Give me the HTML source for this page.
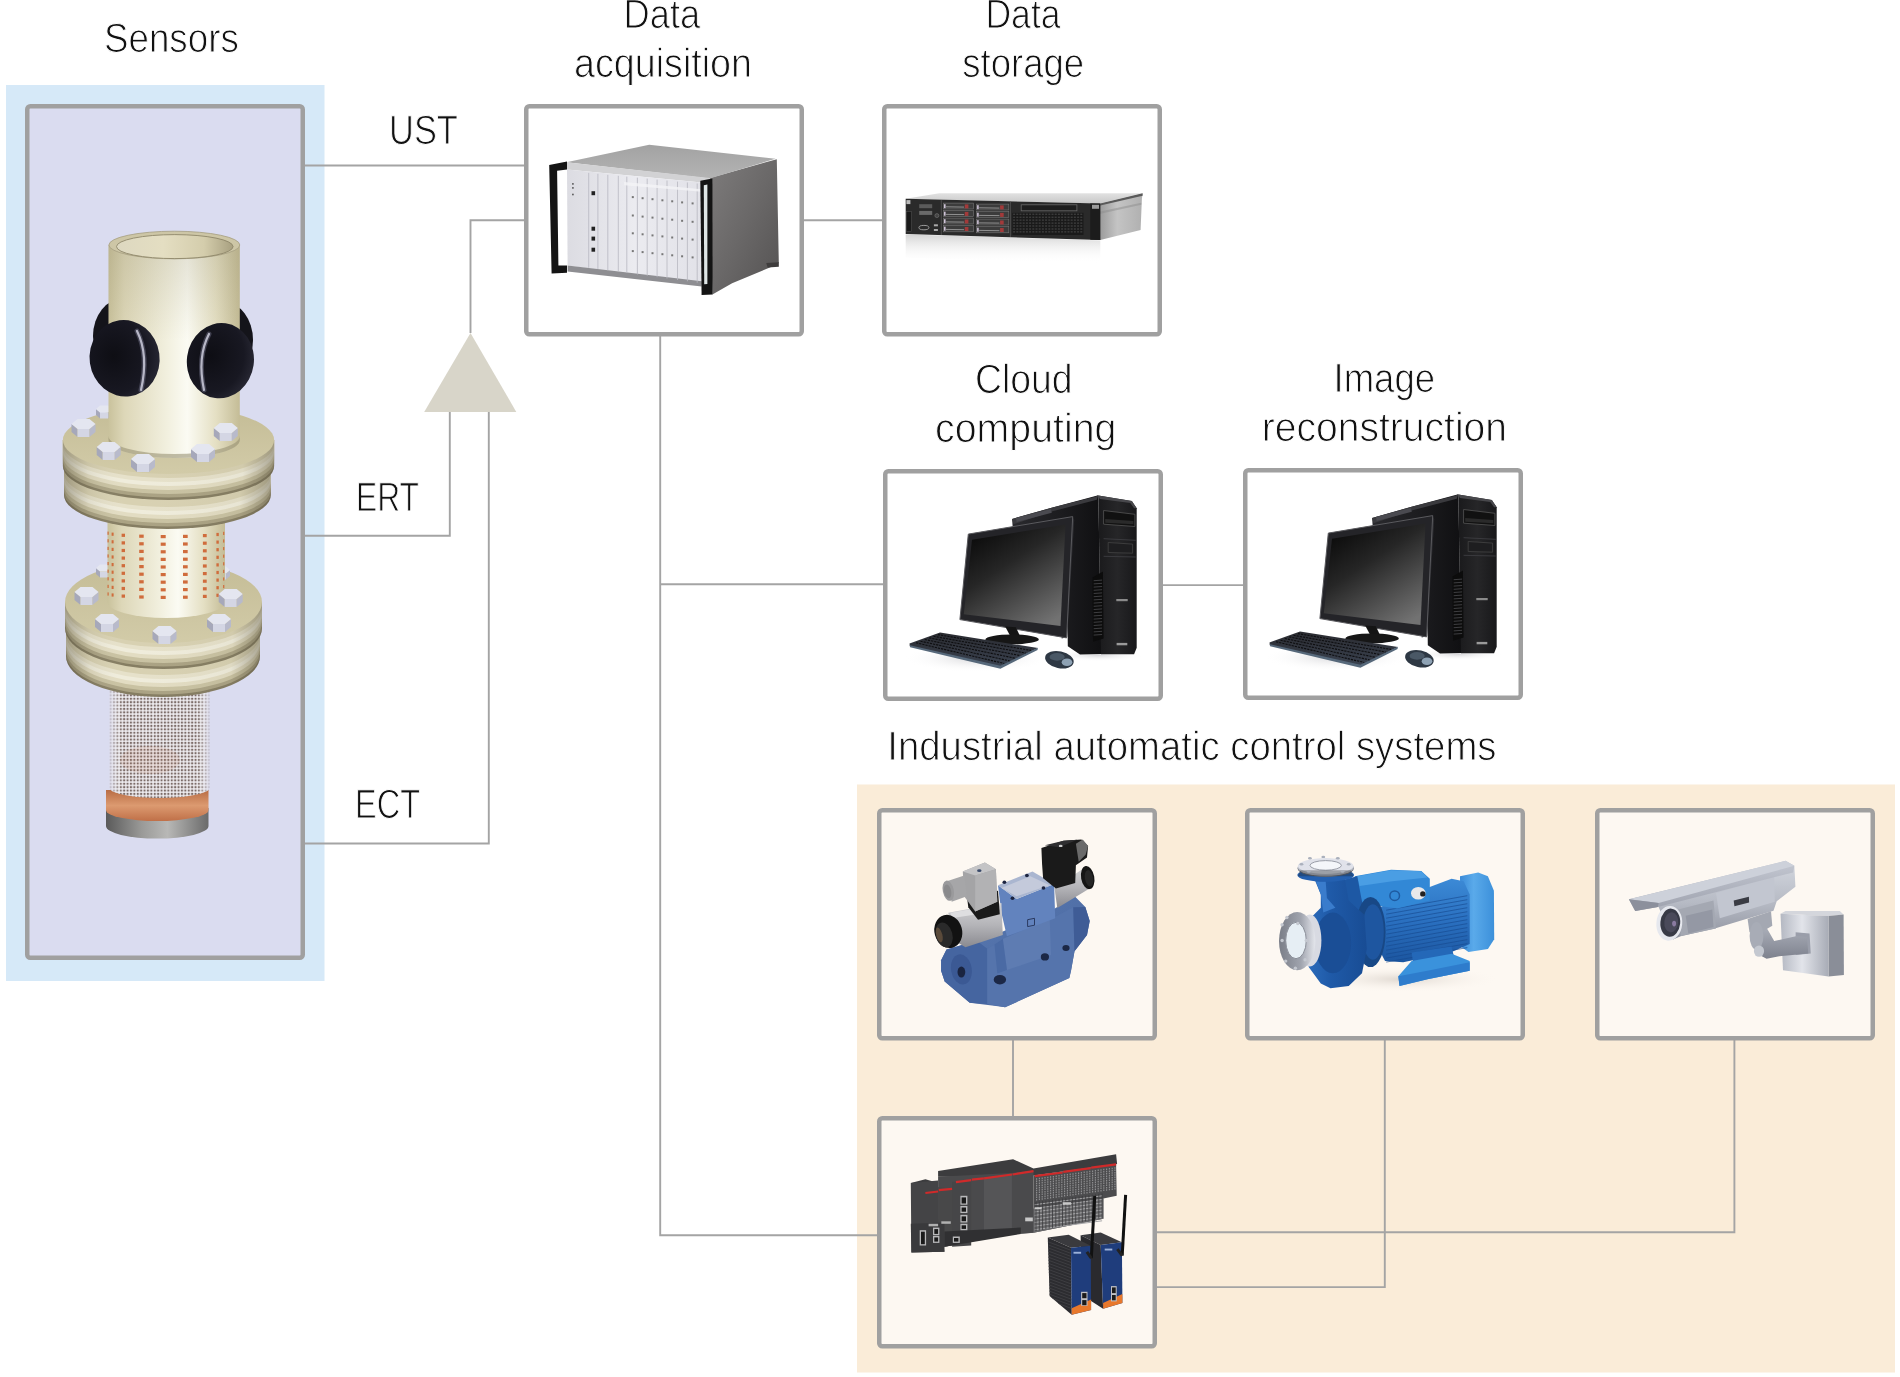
<!DOCTYPE html>
<html><head><meta charset="utf-8">
<style>
html,body{margin:0;padding:0;background:#fff;}
body{width:1900px;height:1377px;overflow:hidden;}
svg{display:block;}
.t{font-family:"Liberation Sans",sans-serif;font-size:41px;fill:#111;stroke:#fff;stroke-width:1.0px;text-rendering:geometricPrecision;-webkit-font-smoothing:antialiased;}
svg{will-change:transform;}
</style></head>
<body>
<svg width="1900" height="1377" viewBox="0 0 1900 1377">
<rect x="0" y="0" width="1900" height="1377" fill="#fff"/>
<rect x="6" y="85" width="318.5" height="896" fill="#d6e9f8"/>
<rect x="857" y="784.5" width="1038" height="588" fill="#faecd8"/>
<g fill="none" stroke="#a4a4a4" stroke-width="1.9">
<path d="M305,165.5H524"/>
<path d="M470.5,333V220.2H524"/>
<path d="M305,535.7H449.8V412"/>
<path d="M305,843.5H488.8V412"/>
<path d="M804,220.2H882"/>
<path d="M660.2,336V1235.3H877"/>
<path d="M660.2,584.3H883"/>
<path d="M1163,585.1H1243"/>
<path d="M1013,1040V1116"/>
<path d="M1384.8,1040V1287.1H1157"/>
<path d="M1734.4,1040V1232.2H1157"/>
</g>
<path d="M470.5,333L516.3,411.9L424.2,411.9Z" fill="#d8d5c9"/>
<g stroke="#a0a0a0" stroke-width="4.5"><rect x="27.25" y="106.25" width="275.5" height="851.5" rx="3" fill="#dadcf0"/><rect x="526.25" y="106.25" width="275.5" height="228.10000000000002" rx="3" fill="#fff"/><rect x="884.25" y="106.25" width="275.5" height="228.10000000000002" rx="3" fill="#fff"/><rect x="885.25" y="471.25" width="275.5" height="227.5" rx="3" fill="#fff"/><rect x="1245.25" y="470.25" width="275.5" height="227.5" rx="3" fill="#fff"/><rect x="879.25" y="810.25" width="275.5" height="228.0" rx="3" fill="#fdf8f2"/><rect x="1247.25" y="810.25" width="275.5" height="228.0" rx="3" fill="#fdf8f2"/><rect x="1597.25" y="810.25" width="275.5" height="228.0" rx="3" fill="#fdf8f2"/><rect x="879.25" y="1118.25" width="275.5" height="228.0999999999999" rx="3" fill="#fdf8f2"/></g>
<defs>
<linearGradient id="pcyl" x1="0" x2="1" y1="0" y2="0">
<stop offset="0" stop-color="#c9c29c"/><stop offset="0.12" stop-color="#ddd7b8"/><stop offset="0.45" stop-color="#f2f0df"/><stop offset="0.6" stop-color="#fbfbf3"/><stop offset="0.82" stop-color="#e4dfc3"/><stop offset="1" stop-color="#c4bc96"/>
</linearGradient>
<linearGradient id="pside" x1="0" x2="1" y1="0" y2="0">
<stop offset="0" stop-color="#b0a886"/><stop offset="0.15" stop-color="#dcd6ba"/><stop offset="0.5" stop-color="#f0eedd"/><stop offset="0.8" stop-color="#e0dbc2"/><stop offset="1" stop-color="#a29a7a"/>
</linearGradient>
<linearGradient id="psidev" x1="0" x2="0" y1="0" y2="1">
<stop offset="0" stop-color="#fff" stop-opacity="0"/><stop offset="0.45" stop-color="#fff" stop-opacity="0.35"/><stop offset="1" stop-color="#6e6650" stop-opacity="0.35"/>
</linearGradient>
<linearGradient id="pface" x1="0" x2="0" y1="0" y2="1">
<stop offset="0" stop-color="#c4bc96"/><stop offset="1" stop-color="#d2cba8"/>
</linearGradient>
<linearGradient id="phole" x1="0" x2="1" y1="0" y2="0">
<stop offset="0" stop-color="#ddd8c0"/><stop offset="0.4" stop-color="#e4dec2"/><stop offset="0.75" stop-color="#d4cdac"/><stop offset="1" stop-color="#a8a080"/>
</linearGradient>
<linearGradient id="pvert" x1="0" x2="0" y1="0" y2="1">
<stop offset="0" stop-color="#8a8260" stop-opacity="0.22"/><stop offset="0.45" stop-color="#8a8260" stop-opacity="0"/><stop offset="1" stop-color="#8a8260" stop-opacity="0"/>
</linearGradient>
<radialGradient id="sens" cx="0.35" cy="0.45" r="0.7">
<stop offset="0" stop-color="#0e0e14"/><stop offset="0.7" stop-color="#181822"/><stop offset="1" stop-color="#2a2a36"/>
</radialGradient>
<pattern id="mesh" width="3.4" height="3.4" patternUnits="userSpaceOnUse">
<rect width="3.4" height="3.4" fill="#f4f2f6"/><rect x="0.7" y="0.7" width="2.1" height="2.1" fill="#7c6c68"/>
</pattern>
<linearGradient id="meshsh" x1="0" x2="1" y1="0" y2="0">
<stop offset="0" stop-color="#d8d8ea" stop-opacity="0.8"/><stop offset="0.12" stop-color="#fff" stop-opacity="0"/><stop offset="0.88" stop-color="#fff" stop-opacity="0"/><stop offset="1" stop-color="#d8d8ea" stop-opacity="0.8"/>
</linearGradient>
<linearGradient id="copper" x1="0" x2="0" y1="0" y2="1">
<stop offset="0" stop-color="#b86c44"/><stop offset="0.5" stop-color="#dc9a70"/><stop offset="1" stop-color="#c07048"/>
</linearGradient>
<linearGradient id="capg" x1="0" x2="1" y1="0" y2="0">
<stop offset="0" stop-color="#5a5a5a"/><stop offset="0.35" stop-color="#9a9a98"/><stop offset="0.6" stop-color="#b8b8b6"/><stop offset="1" stop-color="#6a6a6a"/>
</linearGradient>
<linearGradient id="pshade" x1="0" x2="1" y1="0" y2="0">
<stop offset="0" stop-color="#5a5440" stop-opacity="0.45"/><stop offset="0.12" stop-color="#5a5440" stop-opacity="0.1"/><stop offset="0.3" stop-color="#fff" stop-opacity="0"/><stop offset="0.85" stop-color="#5a5440" stop-opacity="0.05"/><stop offset="1" stop-color="#5a5440" stop-opacity="0.45"/>
</linearGradient>
</defs>
<path d="M106,808 V826 A51.25,12.6 0 0 0 208.5,826 V808 Z" fill="url(#capg)"/>
<path d="M106,790 V810 A51.25,11 0 0 0 208.5,810 V790 Z" fill="url(#copper)"/>
<path d="M109.8,680 V788 A49.7,10 0 0 0 209.2,788 V680 Z" fill="url(#mesh)"/>
<path d="M109.8,680 V788 A49.7,10 0 0 0 209.2,788 V680 Z" fill="url(#meshsh)"/>
<ellipse cx="150" cy="760" rx="30" ry="14" fill="#d07a50" opacity="0.12"/>
<path d="M66,630 V656 A97,41 0 0 0 260,656 V630 Z" fill="#857d62"/><path d="M66,630 V653.5 A97,41 0 0 0 260,653.5 V630 Z" fill="#aaa283"/><path d="M66,630 V650 A97,41 0 0 0 260,650 V630 Z" fill="#c9c2a2"/><path d="M66,630 V646 A97,41 0 0 0 260,646 V630 Z" fill="#e2dcc2"/><path d="M66,630 V642 A97,41 0 0 0 260,642 V630 Z" fill="#efecdb"/><path d="M66,630 V638 A97,41 0 0 0 260,638 V630 Z" fill="#e6e1ca"/><path d="M66,630 V634 A97,41 0 0 0 260,634 V630 Z" fill="#d8d1b2"/><path d="M66,630 V656 A97,41 0 0 0 260,656 V630 Z" fill="url(#pshade)"/>
<path d="M65.0,602 V628 A98.5,41 0 0 0 262.0,628 V602 Z" fill="#857d62"/><path d="M65.0,602 V625.5 A98.5,41 0 0 0 262.0,625.5 V602 Z" fill="#aaa283"/><path d="M65.0,602 V622 A98.5,41 0 0 0 262.0,622 V602 Z" fill="#c9c2a2"/><path d="M65.0,602 V618 A98.5,41 0 0 0 262.0,618 V602 Z" fill="#e2dcc2"/><path d="M65.0,602 V614 A98.5,41 0 0 0 262.0,614 V602 Z" fill="#efecdb"/><path d="M65.0,602 V610 A98.5,41 0 0 0 262.0,610 V602 Z" fill="#e6e1ca"/><path d="M65.0,602 V606 A98.5,41 0 0 0 262.0,606 V602 Z" fill="#d8d1b2"/><path d="M65.0,602 V628 A98.5,41 0 0 0 262.0,628 V602 Z" fill="url(#pshade)"/>
<ellipse cx="163.5" cy="602" rx="98.5" ry="41" fill="url(#pface)"/>
<polygon points="96.0,568.0 100.0,571.5 100.0,577.5 96.0,574.0" fill="#a6a8ba"/><polygon points="100.0,571.5 108.0,571.5 108.0,577.5 100.0,577.5" fill="#d4d6e4"/><polygon points="108.0,571.5 112.0,568.0 112.0,574.0 108.0,577.5" fill="#b8bacb"/><polygon points="96.0,568.0 100.0,564.5 108.0,564.5 112.0,568.0 108.0,571.5 100.0,571.5" fill="#e4e6f0"/>
<polygon points="214.0,570.0 218.0,573.5 218.0,579.5 214.0,576.0" fill="#a6a8ba"/><polygon points="218.0,573.5 226.0,573.5 226.0,579.5 218.0,579.5" fill="#d4d6e4"/><polygon points="226.0,573.5 230.0,570.0 230.0,576.0 226.0,579.5" fill="#b8bacb"/><polygon points="214.0,570.0 218.0,566.5 226.0,566.5 230.0,570.0 226.0,573.5 218.0,573.5" fill="#e4e6f0"/>
<path d="M107.5,520 V602 A58.75,16 0 0 0 225,602 V520 Z" fill="url(#pcyl)"/>
<g fill="#d06c3c">
<rect x="107.5" y="531.6" width="1.2" height="3.2"/>
<rect x="107.5" y="539.2" width="1.2" height="3.2"/>
<rect x="107.5" y="546.8" width="1.2" height="3.2"/>
<rect x="107.5" y="554.4" width="1.2" height="3.2"/>
<rect x="107.5" y="562.0" width="1.2" height="3.2"/>
<rect x="107.5" y="569.6" width="1.2" height="3.2"/>
<rect x="107.5" y="577.2" width="1.2" height="3.2"/>
<rect x="107.5" y="584.8" width="1.2" height="3.2"/>
<rect x="107.5" y="592.4" width="1.2" height="3.2"/>
<rect x="111.6" y="532.6" width="2.0" height="3.2"/>
<rect x="111.6" y="540.2" width="2.0" height="3.2"/>
<rect x="111.6" y="547.8" width="2.0" height="3.2"/>
<rect x="111.6" y="555.4" width="2.0" height="3.2"/>
<rect x="111.6" y="563.0" width="2.0" height="3.2"/>
<rect x="111.6" y="570.6" width="2.0" height="3.2"/>
<rect x="111.6" y="578.2" width="2.0" height="3.2"/>
<rect x="111.6" y="585.8" width="2.0" height="3.2"/>
<rect x="111.6" y="593.4" width="2.0" height="3.2"/>
<rect x="121.6" y="533.7" width="3.4" height="3.2"/>
<rect x="121.6" y="541.3" width="3.4" height="3.2"/>
<rect x="121.6" y="548.9" width="3.4" height="3.2"/>
<rect x="121.6" y="556.5" width="3.4" height="3.2"/>
<rect x="121.6" y="564.1" width="3.4" height="3.2"/>
<rect x="121.6" y="571.7" width="3.4" height="3.2"/>
<rect x="121.6" y="579.3" width="3.4" height="3.2"/>
<rect x="121.6" y="586.9" width="3.4" height="3.2"/>
<rect x="121.6" y="594.5" width="3.4" height="3.2"/>
<rect x="139.2" y="534.6" width="4.5" height="3.2"/>
<rect x="139.2" y="542.2" width="4.5" height="3.2"/>
<rect x="139.2" y="549.8" width="4.5" height="3.2"/>
<rect x="139.2" y="557.4" width="4.5" height="3.2"/>
<rect x="139.2" y="565.0" width="4.5" height="3.2"/>
<rect x="139.2" y="572.6" width="4.5" height="3.2"/>
<rect x="139.2" y="580.2" width="4.5" height="3.2"/>
<rect x="139.2" y="587.8" width="4.5" height="3.2"/>
<rect x="139.2" y="595.4" width="4.5" height="3.2"/>
<rect x="160.7" y="535.0" width="5.0" height="3.2"/>
<rect x="160.7" y="542.6" width="5.0" height="3.2"/>
<rect x="160.7" y="550.2" width="5.0" height="3.2"/>
<rect x="160.7" y="557.8" width="5.0" height="3.2"/>
<rect x="160.7" y="565.4" width="5.0" height="3.2"/>
<rect x="160.7" y="573.0" width="5.0" height="3.2"/>
<rect x="160.7" y="580.6" width="5.0" height="3.2"/>
<rect x="160.7" y="588.2" width="5.0" height="3.2"/>
<rect x="160.7" y="595.8" width="5.0" height="3.2"/>
<rect x="183.0" y="534.8" width="4.7" height="3.2"/>
<rect x="183.0" y="542.4" width="4.7" height="3.2"/>
<rect x="183.0" y="550.0" width="4.7" height="3.2"/>
<rect x="183.0" y="557.6" width="4.7" height="3.2"/>
<rect x="183.0" y="565.2" width="4.7" height="3.2"/>
<rect x="183.0" y="572.8" width="4.7" height="3.2"/>
<rect x="183.0" y="580.4" width="4.7" height="3.2"/>
<rect x="183.0" y="588.0" width="4.7" height="3.2"/>
<rect x="183.0" y="595.6" width="4.7" height="3.2"/>
<rect x="202.9" y="534.0" width="3.8" height="3.2"/>
<rect x="202.9" y="541.6" width="3.8" height="3.2"/>
<rect x="202.9" y="549.2" width="3.8" height="3.2"/>
<rect x="202.9" y="556.8" width="3.8" height="3.2"/>
<rect x="202.9" y="564.4" width="3.8" height="3.2"/>
<rect x="202.9" y="572.0" width="3.8" height="3.2"/>
<rect x="202.9" y="579.6" width="3.8" height="3.2"/>
<rect x="202.9" y="587.2" width="3.8" height="3.2"/>
<rect x="202.9" y="594.8" width="3.8" height="3.2"/>
<rect x="216.4" y="532.9" width="2.4" height="3.2"/>
<rect x="216.4" y="540.5" width="2.4" height="3.2"/>
<rect x="216.4" y="548.1" width="2.4" height="3.2"/>
<rect x="216.4" y="555.7" width="2.4" height="3.2"/>
<rect x="216.4" y="563.3" width="2.4" height="3.2"/>
<rect x="216.4" y="570.9" width="2.4" height="3.2"/>
<rect x="216.4" y="578.5" width="2.4" height="3.2"/>
<rect x="216.4" y="586.1" width="2.4" height="3.2"/>
<rect x="216.4" y="593.7" width="2.4" height="3.2"/>
<rect x="223.1" y="531.8" width="1.2" height="3.2"/>
<rect x="223.1" y="539.4" width="1.2" height="3.2"/>
<rect x="223.1" y="547.0" width="1.2" height="3.2"/>
<rect x="223.1" y="554.6" width="1.2" height="3.2"/>
<rect x="223.1" y="562.2" width="1.2" height="3.2"/>
<rect x="223.1" y="569.8" width="1.2" height="3.2"/>
<rect x="223.1" y="577.4" width="1.2" height="3.2"/>
<rect x="223.1" y="585.0" width="1.2" height="3.2"/>
<rect x="223.1" y="592.6" width="1.2" height="3.2"/>
</g>
<polygon points="74.5,592.0 80.5,597.0 80.5,605.0 74.5,600.0" fill="#a6a8ba"/><polygon points="80.5,597.0 92.5,597.0 92.5,605.0 80.5,605.0" fill="#d4d6e4"/><polygon points="92.5,597.0 98.5,592.0 98.5,600.0 92.5,605.0" fill="#b8bacb"/><polygon points="74.5,592.0 80.5,587.0 92.5,587.0 98.5,592.0 92.5,597.0 80.5,597.0" fill="#e4e6f0"/>
<polygon points="95.0,619.0 101.0,624.0 101.0,632.0 95.0,627.0" fill="#a6a8ba"/><polygon points="101.0,624.0 113.0,624.0 113.0,632.0 101.0,632.0" fill="#d4d6e4"/><polygon points="113.0,624.0 119.0,619.0 119.0,627.0 113.0,632.0" fill="#b8bacb"/><polygon points="95.0,619.0 101.0,614.0 113.0,614.0 119.0,619.0 113.0,624.0 101.0,624.0" fill="#e4e6f0"/>
<polygon points="152.5,631.0 158.5,636.0 158.5,644.0 152.5,639.0" fill="#a6a8ba"/><polygon points="158.5,636.0 170.5,636.0 170.5,644.0 158.5,644.0" fill="#d4d6e4"/><polygon points="170.5,636.0 176.5,631.0 176.5,639.0 170.5,644.0" fill="#b8bacb"/><polygon points="152.5,631.0 158.5,626.0 170.5,626.0 176.5,631.0 170.5,636.0 158.5,636.0" fill="#e4e6f0"/>
<polygon points="207.0,619.0 213.0,624.0 213.0,632.0 207.0,627.0" fill="#a6a8ba"/><polygon points="213.0,624.0 225.0,624.0 225.0,632.0 213.0,632.0" fill="#d4d6e4"/><polygon points="225.0,624.0 231.0,619.0 231.0,627.0 225.0,632.0" fill="#b8bacb"/><polygon points="207.0,619.0 213.0,614.0 225.0,614.0 231.0,619.0 225.0,624.0 213.0,624.0" fill="#e4e6f0"/>
<polygon points="218.7,594.0 224.7,599.0 224.7,607.0 218.7,602.0" fill="#a6a8ba"/><polygon points="224.7,599.0 236.7,599.0 236.7,607.0 224.7,607.0" fill="#d4d6e4"/><polygon points="236.7,599.0 242.7,594.0 242.7,602.0 236.7,607.0" fill="#b8bacb"/><polygon points="218.7,594.0 224.7,589.0 236.7,589.0 242.7,594.0 236.7,599.0 224.7,599.0" fill="#e4e6f0"/>
<path d="M64.0,470 V495 A103.4,34 0 0 0 270.8,495 V470 Z" fill="#857d62"/><path d="M64.0,470 V492.5 A103.4,34 0 0 0 270.8,492.5 V470 Z" fill="#aaa283"/><path d="M64.0,470 V489 A103.4,34 0 0 0 270.8,489 V470 Z" fill="#c9c2a2"/><path d="M64.0,470 V485 A103.4,34 0 0 0 270.8,485 V470 Z" fill="#e2dcc2"/><path d="M64.0,470 V481 A103.4,34 0 0 0 270.8,481 V470 Z" fill="#efecdb"/><path d="M64.0,470 V477 A103.4,34 0 0 0 270.8,477 V470 Z" fill="#e6e1ca"/><path d="M64.0,470 V473 A103.4,34 0 0 0 270.8,473 V470 Z" fill="#d8d1b2"/><path d="M64.0,470 V495 A103.4,34 0 0 0 270.8,495 V470 Z" fill="url(#pshade)"/>
<path d="M62.900000000000006,440 V466 A105.6,34 0 0 0 274.1,466 V440 Z" fill="#857d62"/><path d="M62.900000000000006,440 V463.5 A105.6,34 0 0 0 274.1,463.5 V440 Z" fill="#aaa283"/><path d="M62.900000000000006,440 V460 A105.6,34 0 0 0 274.1,460 V440 Z" fill="#c9c2a2"/><path d="M62.900000000000006,440 V456 A105.6,34 0 0 0 274.1,456 V440 Z" fill="#e2dcc2"/><path d="M62.900000000000006,440 V452 A105.6,34 0 0 0 274.1,452 V440 Z" fill="#efecdb"/><path d="M62.900000000000006,440 V448 A105.6,34 0 0 0 274.1,448 V440 Z" fill="#e6e1ca"/><path d="M62.900000000000006,440 V444 A105.6,34 0 0 0 274.1,444 V440 Z" fill="#d8d1b2"/><path d="M62.900000000000006,440 V466 A105.6,34 0 0 0 274.1,466 V440 Z" fill="url(#pshade)"/>
<ellipse cx="168.5" cy="440" rx="105.6" ry="34" fill="url(#pface)"/>
<polygon points="96.0,409.0 100.0,412.5 100.0,418.5 96.0,415.0" fill="#a6a8ba"/><polygon points="100.0,412.5 108.0,412.5 108.0,418.5 100.0,418.5" fill="#d4d6e4"/><polygon points="108.0,412.5 112.0,409.0 112.0,415.0 108.0,418.5" fill="#b8bacb"/><polygon points="96.0,409.0 100.0,405.5 108.0,405.5 112.0,409.0 108.0,412.5 100.0,412.5" fill="#e4e6f0"/>
<polygon points="223.0,412.0 227.0,415.5 227.0,421.5 223.0,418.0" fill="#a6a8ba"/><polygon points="227.0,415.5 235.0,415.5 235.0,421.5 227.0,421.5" fill="#d4d6e4"/><polygon points="235.0,415.5 239.0,412.0 239.0,418.0 235.0,421.5" fill="#b8bacb"/><polygon points="223.0,412.0 227.0,408.5 235.0,408.5 239.0,412.0 235.0,415.5 227.0,415.5" fill="#e4e6f0"/>
<ellipse cx="124" cy="336" rx="31" ry="38" fill="#14141a"/>
<ellipse cx="224" cy="340" rx="29" ry="38" fill="#14141a"/>
<path d="M108.5,245 V440 A65.65,18 0 0 0 239.8,440 V245 Z" fill="url(#pcyl)"/>
<path d="M108.5,436 A65.65,18 0 0 0 239.8,436 V440 A65.65,18 0 0 1 108.5,440 Z" fill="#9a9274" opacity="0.6"/>
<path d="M108.5,245 V440 A65.65,18 0 0 0 239.8,440 V245 Z" fill="url(#pvert)"/>
<ellipse cx="174.35" cy="245" rx="65.45" ry="13.8" fill="#cdc6a6" stroke="#a69e80" stroke-width="0.8"/>
<ellipse cx="174.8" cy="246.6" rx="58.3" ry="12" fill="url(#phole)" stroke="#8e876a" stroke-width="0.9"/>
<polygon points="71.5,424.0 77.5,429.0 77.5,437.0 71.5,432.0" fill="#a6a8ba"/><polygon points="77.5,429.0 89.5,429.0 89.5,437.0 77.5,437.0" fill="#d4d6e4"/><polygon points="89.5,429.0 95.5,424.0 95.5,432.0 89.5,437.0" fill="#b8bacb"/><polygon points="71.5,424.0 77.5,419.0 89.5,419.0 95.5,424.0 89.5,429.0 77.5,429.0" fill="#e4e6f0"/>
<polygon points="96.7,447.0 102.7,452.0 102.7,460.0 96.7,455.0" fill="#a6a8ba"/><polygon points="102.7,452.0 114.7,452.0 114.7,460.0 102.7,460.0" fill="#d4d6e4"/><polygon points="114.7,452.0 120.7,447.0 120.7,455.0 114.7,460.0" fill="#b8bacb"/><polygon points="96.7,447.0 102.7,442.0 114.7,442.0 120.7,447.0 114.7,452.0 102.7,452.0" fill="#e4e6f0"/>
<polygon points="131.0,459.0 137.0,464.0 137.0,472.0 131.0,467.0" fill="#a6a8ba"/><polygon points="137.0,464.0 149.0,464.0 149.0,472.0 137.0,472.0" fill="#d4d6e4"/><polygon points="149.0,464.0 155.0,459.0 155.0,467.0 149.0,472.0" fill="#b8bacb"/><polygon points="131.0,459.0 137.0,454.0 149.0,454.0 155.0,459.0 149.0,464.0 137.0,464.0" fill="#e4e6f0"/>
<polygon points="191.0,449.0 197.0,454.0 197.0,462.0 191.0,457.0" fill="#a6a8ba"/><polygon points="197.0,454.0 209.0,454.0 209.0,462.0 197.0,462.0" fill="#d4d6e4"/><polygon points="209.0,454.0 215.0,449.0 215.0,457.0 209.0,462.0" fill="#b8bacb"/><polygon points="191.0,449.0 197.0,444.0 209.0,444.0 215.0,449.0 209.0,454.0 197.0,454.0" fill="#e4e6f0"/>
<polygon points="213.8,428.0 219.8,433.0 219.8,441.0 213.8,436.0" fill="#a6a8ba"/><polygon points="219.8,433.0 231.8,433.0 231.8,441.0 219.8,441.0" fill="#d4d6e4"/><polygon points="231.8,433.0 237.8,428.0 237.8,436.0 231.8,441.0" fill="#b8bacb"/><polygon points="213.8,428.0 219.8,423.0 231.8,423.0 237.8,428.0 231.8,433.0 219.8,433.0" fill="#e4e6f0"/>
<ellipse cx="124.6" cy="358.3" rx="35" ry="38.3" transform="rotate(-8 124.6 358.3)" fill="url(#sens)"/>
<ellipse cx="220.4" cy="360.7" rx="33.5" ry="37.7" transform="rotate(8 220.4 360.7)" fill="url(#sens)"/>
<path d="M137,331 Q149,355 141,390" fill="none" stroke="#6a6a80" stroke-width="5" stroke-linecap="round" opacity="0.5"/>
<path d="M137,331 Q149,355 141,390" fill="none" stroke="#c4c4d4" stroke-width="2.2" stroke-linecap="round" opacity="0.9"/>
<path d="M209,334 Q197,357 204,390" fill="none" stroke="#6a6a80" stroke-width="5" stroke-linecap="round" opacity="0.5"/>
<path d="M209,334 Q197,357 204,390" fill="none" stroke="#c4c4d4" stroke-width="2.2" stroke-linecap="round" opacity="0.9"/>
<defs>
<linearGradient id="dqside" x1="0" x2="1" y1="0" y2="1">
<stop offset="0" stop-color="#7e7c7c"/><stop offset="0.5" stop-color="#6a6868"/><stop offset="1" stop-color="#545252"/>
</linearGradient>
<linearGradient id="dqtop" x1="0" x2="0" y1="1" y2="0">
<stop offset="0" stop-color="#b4b4b4"/><stop offset="1" stop-color="#a2a2a2"/>
</linearGradient>
<linearGradient id="dqfront" x1="0" x2="1" y1="0" y2="0">
<stop offset="0" stop-color="#dcdce2"/><stop offset="0.5" stop-color="#ebebf0"/><stop offset="1" stop-color="#e2e2e8"/>
</linearGradient>
</defs>
<polygon points="709.7,178.0 776.8,159.2 778.8,262.9 771.6,266.8 732.1,283.3 712.4,294.5" fill="url(#dqside)"/>
<polygon points="566.3,162.2 649.2,144.7 775.5,158.7 709.7,178.4" fill="url(#dqtop)"/>
<polygon points="566.3,162.2 709.7,178.0 709.7,183.3 567.0,169.5" fill="#d2d2d4"/>
<polygon points="567.0,169.5 701.8,182.6 701.8,283.9 567.6,265.5" fill="url(#dqfront)"/>
<polygon points="567.6,265.5 701.8,281.3 701.8,286.6 567.6,271.4" fill="#8e8e92"/>
<line x1="588.7" y1="172.9" x2="588.7" y2="267.8" stroke="#b8b8c0" stroke-width="0.8"/>
<line x1="597.9" y1="173.8" x2="597.9" y2="269.1" stroke="#b8b8c0" stroke-width="0.8"/>
<line x1="607.8" y1="174.8" x2="607.8" y2="270.4" stroke="#b8b8c0" stroke-width="0.8"/>
<line x1="618.3" y1="175.8" x2="618.3" y2="271.9" stroke="#b8b8c0" stroke-width="0.8"/>
<line x1="626.8" y1="176.6" x2="626.8" y2="273.0" stroke="#b8b8c0" stroke-width="0.8"/>
<line x1="637.4" y1="177.7" x2="637.4" y2="274.5" stroke="#b8b8c0" stroke-width="0.8"/>
<line x1="647.2" y1="178.6" x2="647.2" y2="275.8" stroke="#b8b8c0" stroke-width="0.8"/>
<line x1="657.1" y1="179.6" x2="657.1" y2="277.2" stroke="#b8b8c0" stroke-width="0.8"/>
<line x1="667.0" y1="180.5" x2="667.0" y2="278.5" stroke="#b8b8c0" stroke-width="0.8"/>
<line x1="677.5" y1="181.6" x2="677.5" y2="280.0" stroke="#b8b8c0" stroke-width="0.8"/>
<line x1="687.4" y1="182.5" x2="687.4" y2="281.3" stroke="#b8b8c0" stroke-width="0.8"/>
<line x1="697.2" y1="183.5" x2="697.2" y2="282.7" stroke="#b8b8c0" stroke-width="0.8"/>
<rect x="591.5" y="191.2" width="3.6" height="4" fill="#222"/>
<rect x="591.5" y="226.7" width="3.6" height="4" fill="#222"/>
<rect x="591.5" y="236.6" width="3.6" height="4" fill="#222"/>
<rect x="591.5" y="247.7" width="3.6" height="4" fill="#222"/>
<rect x="572.1" y="183.1" width="1.6" height="1.6" fill="#555"/>
<rect x="572.1" y="187.1" width="1.6" height="1.6" fill="#555"/>
<rect x="572.1" y="193.7" width="1.6" height="1.6" fill="#555"/>
<rect x="631.8" y="196.1" width="2" height="2" fill="#777"/>
<rect x="631.8" y="214.5" width="2" height="2" fill="#777"/>
<rect x="631.8" y="232.3" width="2" height="2" fill="#777"/>
<rect x="631.8" y="250.1" width="2" height="2" fill="#777"/>
<rect x="641.6" y="197.2" width="2" height="2" fill="#777"/>
<rect x="641.6" y="215.6" width="2" height="2" fill="#777"/>
<rect x="641.6" y="233.3" width="2" height="2" fill="#777"/>
<rect x="641.6" y="251.1" width="2" height="2" fill="#777"/>
<rect x="651.5" y="198.2" width="2" height="2" fill="#777"/>
<rect x="651.5" y="216.6" width="2" height="2" fill="#777"/>
<rect x="651.5" y="234.4" width="2" height="2" fill="#777"/>
<rect x="651.5" y="252.2" width="2" height="2" fill="#777"/>
<rect x="661.4" y="199.3" width="2" height="2" fill="#777"/>
<rect x="661.4" y="217.7" width="2" height="2" fill="#777"/>
<rect x="661.4" y="235.4" width="2" height="2" fill="#777"/>
<rect x="661.4" y="253.2" width="2" height="2" fill="#777"/>
<rect x="671.2" y="200.3" width="2" height="2" fill="#777"/>
<rect x="671.2" y="218.7" width="2" height="2" fill="#777"/>
<rect x="671.2" y="236.5" width="2" height="2" fill="#777"/>
<rect x="671.2" y="254.3" width="2" height="2" fill="#777"/>
<rect x="681.1" y="201.4" width="2" height="2" fill="#777"/>
<rect x="681.1" y="219.8" width="2" height="2" fill="#777"/>
<rect x="681.1" y="237.6" width="2" height="2" fill="#777"/>
<rect x="681.1" y="255.3" width="2" height="2" fill="#777"/>
<rect x="691.6" y="202.4" width="2" height="2" fill="#777"/>
<rect x="691.6" y="220.8" width="2" height="2" fill="#777"/>
<rect x="691.6" y="238.6" width="2" height="2" fill="#777"/>
<rect x="691.6" y="256.4" width="2" height="2" fill="#777"/>
<polygon points="624.2,182.0 701.8,189.2 701.8,191.8 624.2,185.3" fill="#f4f4f6" opacity="0.8"/>
<polygon points="549.2,164.9 567.0,161.6 567.0,169.5 557.1,170.8 558.4,265.5 567.0,265.5 567.0,272.8 551.6,273.4" fill="#141414"/>
<polygon points="700.3,180.7 712.4,178.4 712.6,294.5 701.6,295.1" fill="#141414"/>
<polygon points="703.8,185.3 707.4,184.6 707.4,283.9 704.2,284.2" fill="#dfe6e6"/>
<polygon points="766.3,262.9 778.8,262.2 778.8,266.8 767.6,267.5" fill="#3e3c3c"/>
<defs>
<linearGradient id="svside" x1="0" x2="1" y1="0" y2="0">
<stop offset="0" stop-color="#9c9c9c"/><stop offset="0.4" stop-color="#c4c4c4"/><stop offset="1" stop-color="#b0b0b0"/>
</linearGradient>
<linearGradient id="svtop" x1="0" x2="0" y1="1" y2="0">
<stop offset="0" stop-color="#c8c8c8"/><stop offset="1" stop-color="#e2e2e2"/>
</linearGradient>
<linearGradient id="svrefl" x1="0" x2="0" y1="0" y2="1">
<stop offset="0" stop-color="#c8c8c8" stop-opacity="0.8"/><stop offset="1" stop-color="#fff" stop-opacity="0"/>
</linearGradient>
</defs>
<polygon points="905.7,234.4 1100.3,240.4 1100.3,263.2 905.7,257.8" fill="url(#svrefl)"/>
<polygon points="1100.3,203.5 1142.6,193.4 1141.9,198.8 1140.6,229.9 1100.3,240.0" fill="url(#svside)"/>
<polygon points="1100.3,211.5 1141.3,202.8 1141.3,204.8 1100.3,213.8" fill="#8e8e8e" opacity="0.5"/>
<polygon points="905.7,198.8 939.3,193.2 1142.6,193.2 1100.3,203.5" fill="url(#svtop)"/>
<polygon points="1100.3,203.5 1142.6,193.2 1142.6,195.8 1100.3,205.5" fill="#5a5a5a"/>
<polygon points="905.7,198.8 1100.3,203.5 1100.3,240.0 905.7,234.0" fill="#2a2a2a"/>
<polygon points="1090.3,203.5 1100.3,203.5 1100.3,240.0 1090.3,239.7" fill="#1c1c1c"/>
<rect x="1092.0" y="204.8" width="7" height="4" fill="#9a9a9a"/>
<rect x="906.4" y="200.1" width="4" height="4" fill="#bbb"/>
<rect x="906.4" y="211.5" width="5" height="20" fill="#1a1a1a" stroke="#555" stroke-width="0.5"/>
<rect x="919.2" y="204.2" width="13" height="4" fill="#5a5a5a"/>
<rect x="919.2" y="210.9" width="13" height="4" fill="#6a6a6a"/>
<ellipse cx="923.9" cy="227.6" rx="5" ry="2.2" fill="none" stroke="#999" stroke-width="1"/>
<rect x="933.9" y="224.3" width="4" height="2" fill="#aaa"/><rect x="933.9" y="229.0" width="4" height="2" fill="#aaa"/>
<circle cx="936.9" cy="215.6" r="2" fill="#444" stroke="#777" stroke-width="0.6"/>
<line x1="941.3" y1="200.1" x2="941.3" y2="235.0" stroke="#555" stroke-width="0.8"/>
<line x1="1010.4" y1="201.5" x2="1010.4" y2="237.0" stroke="#555" stroke-width="0.8"/>
<rect x="943.3" y="203.1" width="30.2" height="5.9" fill="#3c3c3c" stroke="#777" stroke-width="0.6"/>
<line x1="946.0" y1="206.8" x2="964.1" y2="207.1" stroke="#9a9a9a" stroke-width="0.9"/>
<rect x="964.8" y="204.4" width="3.6" height="4" fill="#a33a3a"/>
<rect x="944.0" y="204.2" width="1.6" height="4" fill="#cfc4d8"/>
<rect x="943.3" y="210.6" width="30.2" height="5.9" fill="#3c3c3c" stroke="#777" stroke-width="0.6"/>
<line x1="946.0" y1="214.4" x2="964.1" y2="214.6" stroke="#9a9a9a" stroke-width="0.9"/>
<rect x="964.8" y="211.9" width="3.6" height="4" fill="#a33a3a"/>
<rect x="944.0" y="211.7" width="1.6" height="4" fill="#cfc4d8"/>
<rect x="943.3" y="218.1" width="30.2" height="5.9" fill="#3c3c3c" stroke="#777" stroke-width="0.6"/>
<line x1="946.0" y1="221.9" x2="964.1" y2="222.1" stroke="#9a9a9a" stroke-width="0.9"/>
<rect x="964.8" y="219.5" width="3.6" height="4" fill="#a33a3a"/>
<rect x="944.0" y="219.2" width="1.6" height="4" fill="#cfc4d8"/>
<rect x="943.3" y="225.6" width="30.2" height="6.2" fill="#3c3c3c" stroke="#777" stroke-width="0.6"/>
<line x1="946.0" y1="229.4" x2="964.1" y2="229.7" stroke="#9a9a9a" stroke-width="0.9"/>
<rect x="964.8" y="227.0" width="3.6" height="4" fill="#a33a3a"/>
<rect x="944.0" y="226.7" width="1.6" height="4" fill="#cfc4d8"/>
<rect x="976.5" y="204.1" width="32.3" height="5.9" fill="#3c3c3c" stroke="#777" stroke-width="0.6"/>
<line x1="979.1" y1="207.8" x2="999.4" y2="208.1" stroke="#9a9a9a" stroke-width="0.9"/>
<rect x="1000.1" y="205.4" width="3.6" height="4" fill="#a33a3a"/>
<rect x="977.1" y="205.2" width="1.6" height="4" fill="#cfc4d8"/>
<rect x="976.5" y="211.6" width="32.3" height="5.9" fill="#3c3c3c" stroke="#777" stroke-width="0.6"/>
<line x1="979.1" y1="215.4" x2="999.4" y2="215.6" stroke="#9a9a9a" stroke-width="0.9"/>
<rect x="1000.1" y="212.9" width="3.6" height="4" fill="#a33a3a"/>
<rect x="977.1" y="212.7" width="1.6" height="4" fill="#cfc4d8"/>
<rect x="976.5" y="219.1" width="32.3" height="5.9" fill="#3c3c3c" stroke="#777" stroke-width="0.6"/>
<line x1="979.1" y1="222.9" x2="999.4" y2="223.1" stroke="#9a9a9a" stroke-width="0.9"/>
<rect x="1000.1" y="220.5" width="3.6" height="4" fill="#a33a3a"/>
<rect x="977.1" y="220.2" width="1.6" height="4" fill="#cfc4d8"/>
<rect x="976.5" y="226.6" width="32.3" height="6.2" fill="#3c3c3c" stroke="#777" stroke-width="0.6"/>
<line x1="979.1" y1="230.4" x2="999.4" y2="230.7" stroke="#9a9a9a" stroke-width="0.9"/>
<rect x="1000.1" y="228.0" width="3.6" height="4" fill="#a33a3a"/>
<rect x="977.1" y="227.7" width="1.6" height="4" fill="#cfc4d8"/>
<rect x="1021.2" y="204.8" width="55.7" height="6.0" fill="#1e1e1e" stroke="#6a6a6a" stroke-width="0.8"/>
<rect x="1012.4" y="212.9" width="71.1" height="22.1" fill="#1a1a1a"/>
<line x1="1013.1" y1="214.2" x2="1082.9" y2="214.2" stroke="#4a4a4a" stroke-width="1" stroke-dasharray="2 1.2"/>
<line x1="1013.1" y1="217.2" x2="1082.9" y2="217.2" stroke="#4a4a4a" stroke-width="1" stroke-dasharray="2 1.2"/>
<line x1="1013.1" y1="220.1" x2="1082.9" y2="220.1" stroke="#4a4a4a" stroke-width="1" stroke-dasharray="2 1.2"/>
<line x1="1013.1" y1="223.1" x2="1082.9" y2="223.1" stroke="#4a4a4a" stroke-width="1" stroke-dasharray="2 1.2"/>
<line x1="1013.1" y1="226.0" x2="1082.9" y2="226.0" stroke="#4a4a4a" stroke-width="1" stroke-dasharray="2 1.2"/>
<line x1="1013.1" y1="229.0" x2="1082.9" y2="229.0" stroke="#4a4a4a" stroke-width="1" stroke-dasharray="2 1.2"/>
<line x1="1013.1" y1="231.9" x2="1082.9" y2="231.9" stroke="#4a4a4a" stroke-width="1" stroke-dasharray="2 1.2"/>
<defs>
<linearGradient id="scra" x1="0.15" x2="0.8" y1="0" y2="1">
<stop offset="0" stop-color="#080808"/><stop offset="0.4" stop-color="#262626"/><stop offset="1" stop-color="#727272"/>
</linearGradient>
<linearGradient id="twsa" x1="0" x2="1" y1="0" y2="0">
<stop offset="0" stop-color="#2a2a2e"/><stop offset="1" stop-color="#101012"/>
</linearGradient>
<linearGradient id="twfa" x1="0" x2="1" y1="0" y2="0">
<stop offset="0" stop-color="#1a1a1c"/><stop offset="0.5" stop-color="#262628"/><stop offset="1" stop-color="#18181a"/>
</linearGradient>
<linearGradient id="kba" x1="0" x2="0" y1="0" y2="1">
<stop offset="0" stop-color="#2a2b30"/><stop offset="1" stop-color="#3a4250"/>
</linearGradient>
<radialGradient id="shda" cx="0.5" cy="0.5" r="0.5">
<stop offset="0" stop-color="#c8c8cc" stop-opacity="0.7"/><stop offset="1" stop-color="#fff" stop-opacity="0"/>
</radialGradient>
</defs>
<ellipse cx="976.3" cy="658.5" rx="73.2" ry="13.7" fill="url(#shda)"/>
<ellipse cx="1098.3" cy="655.4" rx="45.8" ry="6.1" fill="url(#shda)"/>
<polygon points="1012.1,518.9 1052.5,507.5 1098.3,495.3 1101.3,653.9 1080.0,654.6 1067.8,646.3 1066.3,525.8 1012.9,530.3" fill="url(#twsa)"/>
<polygon points="1012.1,518.9 1052.5,507.5 1095.2,496.8 1098.3,495.3 1096.8,499.8 1052.5,511.3 1013.6,524.2" fill="#3a3a3e"/>
<polygon points="1015.9,518.1 1051.0,509.0 1051.8,512.8 1016.7,521.9" fill="#4a4a50"/>
<polygon points="1098.3,495.6 1131.8,501.0 1136.7,508.2 1136.7,647.8 1134.1,654.2 1101.0,654.2" fill="url(#twfa)"/>
<polygon points="1098.3,495.6 1131.8,501.0 1136.7,508.2 1134.1,508.2 1130.3,502.9 1099.8,499.1" fill="#48484c"/>
<polygon points="1103.6,510.5 1134.9,514.3 1134.9,526.5 1103.6,524.2" fill="#111" stroke="#555" stroke-width="0.8"/>
<polygon points="1105.2,518.9 1133.4,520.9 1133.4,524.2 1105.2,522.7" fill="#2a2a2a"/>
<polygon points="1108.2,542.5 1132.6,544.1 1132.6,553.2 1108.2,552.5" fill="#1e1e20" stroke="#444" stroke-width="0.8"/>
<line x1="1103.6" y1="538.7" x2="1135.7" y2="540.3" stroke="#3a3a3e" stroke-width="1"/>
<line x1="1103.6" y1="556.3" x2="1135.7" y2="557.0" stroke="#3a3a3e" stroke-width="1"/>
<polygon points="1092.5,577.6 1102.9,571.5 1103.6,638.6 1093.0,641.7" fill="#0c0c0c"/>
<line x1="1093.7" y1="580.7" x2="1102.1" y2="580.1" stroke="#4a4a4e" stroke-width="0.8"/>
<line x1="1093.7" y1="583.9" x2="1102.1" y2="583.3" stroke="#4a4a4e" stroke-width="0.8"/>
<line x1="1093.7" y1="587.1" x2="1102.1" y2="586.5" stroke="#4a4a4e" stroke-width="0.8"/>
<line x1="1093.7" y1="590.3" x2="1102.1" y2="589.7" stroke="#4a4a4e" stroke-width="0.8"/>
<line x1="1093.7" y1="593.5" x2="1102.1" y2="592.9" stroke="#4a4a4e" stroke-width="0.8"/>
<line x1="1093.7" y1="596.7" x2="1102.1" y2="596.1" stroke="#4a4a4e" stroke-width="0.8"/>
<line x1="1093.7" y1="599.9" x2="1102.1" y2="599.3" stroke="#4a4a4e" stroke-width="0.8"/>
<line x1="1093.7" y1="603.1" x2="1102.1" y2="602.5" stroke="#4a4a4e" stroke-width="0.8"/>
<line x1="1093.7" y1="606.3" x2="1102.1" y2="605.7" stroke="#4a4a4e" stroke-width="0.8"/>
<line x1="1093.7" y1="609.5" x2="1102.1" y2="608.9" stroke="#4a4a4e" stroke-width="0.8"/>
<line x1="1093.7" y1="612.7" x2="1102.1" y2="612.1" stroke="#4a4a4e" stroke-width="0.8"/>
<line x1="1093.7" y1="615.9" x2="1102.1" y2="615.3" stroke="#4a4a4e" stroke-width="0.8"/>
<line x1="1093.7" y1="619.1" x2="1102.1" y2="618.5" stroke="#4a4a4e" stroke-width="0.8"/>
<line x1="1093.7" y1="622.3" x2="1102.1" y2="621.7" stroke="#4a4a4e" stroke-width="0.8"/>
<line x1="1093.7" y1="625.5" x2="1102.1" y2="624.9" stroke="#4a4a4e" stroke-width="0.8"/>
<line x1="1093.7" y1="628.7" x2="1102.1" y2="628.1" stroke="#4a4a4e" stroke-width="0.8"/>
<line x1="1093.7" y1="631.9" x2="1102.1" y2="631.3" stroke="#4a4a4e" stroke-width="0.8"/>
<line x1="1093.7" y1="635.1" x2="1102.1" y2="634.5" stroke="#4a4a4e" stroke-width="0.8"/>
<rect x="1116.3" y="599.0" width="11.4" height="2.2" fill="#8a8a8a"/>
<rect x="1116.6" y="642.9" width="10.7" height="2.4" fill="#9a9a9a"/>
<polygon points="1065.5,520.0 1072.7,516.6 1074.2,520.0 1067.2,637.1 1061.7,638.6" fill="#2e2e32"/>
<polygon points="968.3,534.1 1072.7,516.6 1066.6,637.9 959.9,619.6" fill="#242428"/>
<polygon points="968.3,534.1 1072.7,516.6 1066.6,637.9 959.9,619.6" fill="none" stroke="#5a5a5e" stroke-width="1"/>
<polygon points="972.0,539.8 1065.5,524.5 1060.5,626.1 963.8,614.2" fill="url(#scra)"/>
<polygon points="1005.2,626.4 1015.9,627.2 1022.0,640.2 1012.9,640.9" fill="#141414"/>
<ellipse cx="1012.1" cy="639.4" rx="26.7" ry="4.9" fill="#161616"/>
<polygon points="909.5,643.5 940.0,632.5 1037.9,648.1 1000.4,667.3 909.8,646.3" fill="url(#kba)"/>
<polygon points="909.8,645.3 1000.4,665.8 1037.7,647.8 1037.6,649.9 1000.4,668.8 910.1,647.2" fill="#56687a"/>
<line x1="916.1" y1="642.8" x2="1004.2" y2="663.5" stroke="#0e0e10" stroke-width="1.1" stroke-dasharray="2.2 1"/>
<line x1="920.5" y1="641.2" x2="1009.6" y2="660.9" stroke="#0e0e10" stroke-width="1.1" stroke-dasharray="2.2 1"/>
<line x1="924.8" y1="639.5" x2="1014.9" y2="658.2" stroke="#0e0e10" stroke-width="1.1" stroke-dasharray="2.2 1"/>
<line x1="929.2" y1="637.9" x2="1020.3" y2="655.6" stroke="#0e0e10" stroke-width="1.1" stroke-dasharray="2.2 1"/>
<line x1="933.5" y1="636.3" x2="1025.6" y2="653.0" stroke="#0e0e10" stroke-width="1.1" stroke-dasharray="2.2 1"/>
<line x1="937.9" y1="634.6" x2="1031.0" y2="650.4" stroke="#0e0e10" stroke-width="1.1" stroke-dasharray="2.2 1"/>
<ellipse cx="1059.4" cy="659.7" rx="14.5" ry="8.4" transform="rotate(12 1059.4 659.7)" fill="#2e3844"/>
<ellipse cx="1067.0" cy="662.3" rx="5.3" ry="3.8" fill="#8ea2b4"/>
<ellipse cx="1057.1" cy="656.9" rx="7.6" ry="3.8" fill="#4a5866"/>
<defs>
<linearGradient id="scrb" x1="0.15" x2="0.8" y1="0" y2="1">
<stop offset="0" stop-color="#080808"/><stop offset="0.4" stop-color="#262626"/><stop offset="1" stop-color="#727272"/>
</linearGradient>
<linearGradient id="twsb" x1="0" x2="1" y1="0" y2="0">
<stop offset="0" stop-color="#2a2a2e"/><stop offset="1" stop-color="#101012"/>
</linearGradient>
<linearGradient id="twfb" x1="0" x2="1" y1="0" y2="0">
<stop offset="0" stop-color="#1a1a1c"/><stop offset="0.5" stop-color="#262628"/><stop offset="1" stop-color="#18181a"/>
</linearGradient>
<linearGradient id="kbb" x1="0" x2="0" y1="0" y2="1">
<stop offset="0" stop-color="#2a2b30"/><stop offset="1" stop-color="#3a4250"/>
</linearGradient>
<radialGradient id="shdb" cx="0.5" cy="0.5" r="0.5">
<stop offset="0" stop-color="#c8c8cc" stop-opacity="0.7"/><stop offset="1" stop-color="#fff" stop-opacity="0"/>
</radialGradient>
</defs>
<ellipse cx="1336.3" cy="657.5" rx="73.2" ry="13.7" fill="url(#shdb)"/>
<ellipse cx="1458.3" cy="654.4" rx="45.8" ry="6.1" fill="url(#shdb)"/>
<polygon points="1372.1,517.9 1412.5,506.5 1458.3,494.3 1461.3,652.9 1440.0,653.6 1427.8,645.3 1426.3,524.8 1372.9,529.3" fill="url(#twsb)"/>
<polygon points="1372.1,517.9 1412.5,506.5 1455.2,495.8 1458.3,494.3 1456.8,498.8 1412.5,510.3 1373.6,523.2" fill="#3a3a3e"/>
<polygon points="1375.9,517.1 1411.0,508.0 1411.8,511.8 1376.7,520.9" fill="#4a4a50"/>
<polygon points="1458.3,494.6 1491.8,500.0 1496.7,507.2 1496.7,646.8 1494.1,653.2 1461.0,653.2" fill="url(#twfb)"/>
<polygon points="1458.3,494.6 1491.8,500.0 1496.7,507.2 1494.1,507.2 1490.3,501.9 1459.8,498.1" fill="#48484c"/>
<polygon points="1463.6,509.5 1494.9,513.3 1494.9,525.5 1463.6,523.2" fill="#111" stroke="#555" stroke-width="0.8"/>
<polygon points="1465.2,517.9 1493.4,519.9 1493.4,523.2 1465.2,521.7" fill="#2a2a2a"/>
<polygon points="1468.2,541.5 1492.6,543.1 1492.6,552.2 1468.2,551.5" fill="#1e1e20" stroke="#444" stroke-width="0.8"/>
<line x1="1463.6" y1="537.7" x2="1495.7" y2="539.3" stroke="#3a3a3e" stroke-width="1"/>
<line x1="1463.6" y1="555.3" x2="1495.7" y2="556.0" stroke="#3a3a3e" stroke-width="1"/>
<polygon points="1452.5,576.6 1462.9,570.5 1463.6,637.6 1453.0,640.7" fill="#0c0c0c"/>
<line x1="1453.7" y1="579.7" x2="1462.1" y2="579.1" stroke="#4a4a4e" stroke-width="0.8"/>
<line x1="1453.7" y1="582.9" x2="1462.1" y2="582.3" stroke="#4a4a4e" stroke-width="0.8"/>
<line x1="1453.7" y1="586.1" x2="1462.1" y2="585.5" stroke="#4a4a4e" stroke-width="0.8"/>
<line x1="1453.7" y1="589.3" x2="1462.1" y2="588.7" stroke="#4a4a4e" stroke-width="0.8"/>
<line x1="1453.7" y1="592.5" x2="1462.1" y2="591.9" stroke="#4a4a4e" stroke-width="0.8"/>
<line x1="1453.7" y1="595.7" x2="1462.1" y2="595.1" stroke="#4a4a4e" stroke-width="0.8"/>
<line x1="1453.7" y1="598.9" x2="1462.1" y2="598.3" stroke="#4a4a4e" stroke-width="0.8"/>
<line x1="1453.7" y1="602.1" x2="1462.1" y2="601.5" stroke="#4a4a4e" stroke-width="0.8"/>
<line x1="1453.7" y1="605.3" x2="1462.1" y2="604.7" stroke="#4a4a4e" stroke-width="0.8"/>
<line x1="1453.7" y1="608.5" x2="1462.1" y2="607.9" stroke="#4a4a4e" stroke-width="0.8"/>
<line x1="1453.7" y1="611.7" x2="1462.1" y2="611.1" stroke="#4a4a4e" stroke-width="0.8"/>
<line x1="1453.7" y1="614.9" x2="1462.1" y2="614.3" stroke="#4a4a4e" stroke-width="0.8"/>
<line x1="1453.7" y1="618.1" x2="1462.1" y2="617.5" stroke="#4a4a4e" stroke-width="0.8"/>
<line x1="1453.7" y1="621.3" x2="1462.1" y2="620.7" stroke="#4a4a4e" stroke-width="0.8"/>
<line x1="1453.7" y1="624.5" x2="1462.1" y2="623.9" stroke="#4a4a4e" stroke-width="0.8"/>
<line x1="1453.7" y1="627.7" x2="1462.1" y2="627.1" stroke="#4a4a4e" stroke-width="0.8"/>
<line x1="1453.7" y1="630.9" x2="1462.1" y2="630.3" stroke="#4a4a4e" stroke-width="0.8"/>
<line x1="1453.7" y1="634.1" x2="1462.1" y2="633.5" stroke="#4a4a4e" stroke-width="0.8"/>
<rect x="1476.3" y="598.0" width="11.4" height="2.2" fill="#8a8a8a"/>
<rect x="1476.6" y="641.9" width="10.7" height="2.4" fill="#9a9a9a"/>
<polygon points="1425.5,519.0 1432.7,515.6 1434.2,519.0 1427.2,636.1 1421.7,637.6" fill="#2e2e32"/>
<polygon points="1328.3,533.1 1432.7,515.6 1426.6,636.9 1319.9,618.6" fill="#242428"/>
<polygon points="1328.3,533.1 1432.7,515.6 1426.6,636.9 1319.9,618.6" fill="none" stroke="#5a5a5e" stroke-width="1"/>
<polygon points="1332.0,538.8 1425.5,523.5 1420.5,625.1 1323.8,613.2" fill="url(#scrb)"/>
<polygon points="1365.2,625.4 1375.9,626.2 1382.0,639.2 1372.9,639.9" fill="#141414"/>
<ellipse cx="1372.1" cy="638.4" rx="26.7" ry="4.9" fill="#161616"/>
<polygon points="1269.5,642.5 1300.0,631.5 1397.9,647.1 1360.4,666.3 1269.8,645.3" fill="url(#kbb)"/>
<polygon points="1269.8,644.3 1360.4,664.8 1397.7,646.8 1397.6,648.9 1360.4,667.8 1270.1,646.2" fill="#56687a"/>
<line x1="1276.1" y1="641.8" x2="1364.2" y2="662.5" stroke="#0e0e10" stroke-width="1.1" stroke-dasharray="2.2 1"/>
<line x1="1280.5" y1="640.2" x2="1369.6" y2="659.9" stroke="#0e0e10" stroke-width="1.1" stroke-dasharray="2.2 1"/>
<line x1="1284.8" y1="638.5" x2="1374.9" y2="657.2" stroke="#0e0e10" stroke-width="1.1" stroke-dasharray="2.2 1"/>
<line x1="1289.2" y1="636.9" x2="1380.3" y2="654.6" stroke="#0e0e10" stroke-width="1.1" stroke-dasharray="2.2 1"/>
<line x1="1293.5" y1="635.3" x2="1385.6" y2="652.0" stroke="#0e0e10" stroke-width="1.1" stroke-dasharray="2.2 1"/>
<line x1="1297.9" y1="633.6" x2="1391.0" y2="649.4" stroke="#0e0e10" stroke-width="1.1" stroke-dasharray="2.2 1"/>
<ellipse cx="1419.4" cy="658.7" rx="14.5" ry="8.4" transform="rotate(12 1419.4 658.7)" fill="#2e3844"/>
<ellipse cx="1427.0" cy="661.3" rx="5.3" ry="3.8" fill="#8ea2b4"/>
<ellipse cx="1417.1" cy="655.9" rx="7.6" ry="3.8" fill="#4a5866"/>
<defs>
<linearGradient id="vsol" x1="0" x2="0" y1="0" y2="1">
<stop offset="0" stop-color="#d4d4d6"/><stop offset="0.5" stop-color="#b4b4b8"/><stop offset="1" stop-color="#8a8a90"/>
</linearGradient>
<linearGradient id="vblue" x1="0" x2="1" y1="0" y2="1">
<stop offset="0" stop-color="#5a7ab2"/><stop offset="1" stop-color="#48669e"/>
</linearGradient>
</defs>
<polygon points="941.1,960.3 946.5,949.5 976.9,940.7 1001.7,932.1 1052.5,910.0 1074.5,896.0 1085.3,906.9 1089.7,921.1 1087.0,935.1 1074.5,951.2 1071.0,970.7 1069.3,978.1 1005.1,1007.3 998.0,1006.3 969.7,1002.8 944.7,981.5 941.1,970.7" fill="url(#vblue)" />
<polygon points="941.1,960.3 946.5,949.5 976.9,940.7 987.3,948.7 987.3,1004.1 969.7,1002.8 944.7,981.5 941.1,970.7" fill="#4565a0" />
<ellipse cx="961.4" cy="969.4" rx="10.3" ry="15.2" transform="rotate(-10 961.4 969.4)" fill="#3b5994"/>
<ellipse cx="961.4" cy="972.1" rx="3.9" ry="5.5" transform="rotate(0 961.4 972.1)" fill="#1a2440"/>
<polygon points="987.3,948.7 1005.6,939.0 1052.5,918.3 1073.2,907.3 1074.5,951.2 1071.0,970.7 1069.3,978.1 1005.1,1007.3 987.3,1004.1" fill="#5574ac" />
<polygon points="1002.8,939.0 1049.7,918.3 1051.1,954.9 1006.9,970.1" fill="#5e7cb2" />
<polygon points="1002.8,939.0 1006.9,970.1 997.3,973.5 994.5,944.5" fill="#4a6aa4" />
<ellipse cx="999.9" cy="979.7" rx="6.2" ry="4.8" transform="rotate(0 999.9 979.7)" fill="#1c2846"/>
<ellipse cx="1044.9" cy="956.9" rx="4.1" ry="3.6" transform="rotate(0 1044.9 956.9)" fill="#1c2846"/>
<ellipse cx="1066.0" cy="948.0" rx="3.6" ry="3.0" transform="rotate(0 1066.0 948.0)" fill="#1c2846"/>
<polygon points="1073.2,907.3 1085.3,906.9 1089.7,921.1 1087.0,935.1 1074.5,951.2" fill="#3f5c96" />
<polygon points="1054.5,888.0 1085.6,867.0 1091.8,874.2 1088.3,889.3 1057.3,908.0" fill="url(#vsol)" />
<ellipse cx="1087.7" cy="877.6" rx="6.6" ry="11.7" transform="rotate(-10 1087.7 877.6)" fill="#151515"/>
<ellipse cx="1089.0" cy="878.3" rx="4.1" ry="8.3" transform="rotate(-10 1089.0 878.3)" fill="#262626"/>
<polygon points="998.0,885.2 1016.6,899.0 1054.1,884.1 1055.2,918.3 1006.9,936.3 1001.4,912.8" fill="#6283be" />
<polygon points="998.0,885.2 1032.5,871.4 1054.1,884.1 1016.6,899.0" fill="#aab6d0" />
<polygon points="1001.4,888.0 1030.4,876.2 1049.7,885.2 1016.6,896.2" fill="#c4cadb" />
<ellipse cx="1004.4" cy="882.2" rx="1.9" ry="1.7" transform="rotate(0 1004.4 882.2)" fill="#1c2440"/>
<ellipse cx="1026.9" cy="875.5" rx="1.9" ry="1.7" transform="rotate(0 1026.9 875.5)" fill="#1c2440"/>
<ellipse cx="1043.5" cy="888.0" rx="1.9" ry="1.7" transform="rotate(0 1043.5 888.0)" fill="#1c2440"/>
<ellipse cx="1012.5" cy="898.3" rx="1.9" ry="1.7" transform="rotate(0 1012.5 898.3)" fill="#1c2440"/>
<polygon points="1027.6,919.7 1034.5,918.3 1034.5,925.2 1027.6,926.6" fill="none" stroke="#2a3a60" stroke-width="1"/>
<polygon points="948.3,912.8 1001.4,903.1 1002.8,934.9 965.5,947.3 951.7,939.0" fill="url(#vsol)" />
<polygon points="950.4,912.8 986.2,906.6 986.9,912.8 951.0,918.3" fill="#dedee0" />
<ellipse cx="948.3" cy="931.4" rx="13.8" ry="16.8" transform="rotate(-15 948.3 931.4)" fill="#121212"/>
<ellipse cx="944.1" cy="934.9" rx="8.3" ry="12.7" transform="rotate(-15 944.1 934.9)" fill="#2a2a2a"/>
<ellipse cx="939.3" cy="934.9" rx="3.0" ry="7.6" transform="rotate(-15 939.3 934.9)" fill="#5a4a3a"/>
<polygon points="966.9,896.2 998.0,890.7 999.8,914.2 978.0,919.7 968.3,907.3" fill="#1a1a1a" />
<polygon points="962.8,871.4 984.9,862.4 995.9,869.3 997.3,901.8 975.2,911.4 964.2,896.2" fill="#a4a4a6" />
<polygon points="962.8,871.4 984.9,862.4 995.9,869.3 975.2,875.5" fill="#c4c4c6" />
<polygon points="975.2,875.5 995.9,869.3 997.3,901.8 975.2,911.4" fill="#b2b2b4" />
<ellipse cx="979.3" cy="870.7" rx="2.2" ry="1.4" transform="rotate(0 979.3 870.7)" fill="#3a4a6a"/>
<polygon points="947.6,881.1 964.2,875.5 966.9,896.2 951.7,901.8" fill="#a6a6a8" />
<ellipse cx="948.3" cy="890.7" rx="5.5" ry="10.3" transform="rotate(-12 948.3 890.7)" fill="#9a9a9c"/>
<ellipse cx="947.6" cy="891.4" rx="3.6" ry="6.9" transform="rotate(-12 947.6 891.4)" fill="#8a8a8c"/>
<polygon points="1041.4,847.9 1063.5,840.8 1081.4,839.4 1088.1,845.9 1087.0,857.6 1075.9,865.2 1075.2,883.1 1055.9,888.6 1043.1,878.3 1042.1,864.5" fill="#1a1a1a" />
<polygon points="1044.9,845.2 1063.5,840.8 1077.3,839.7 1059.4,847.2" fill="#2e2e30" />
<polygon points="1075.9,843.8 1082.8,839.4 1088.1,845.9 1085.6,854.8 1078.7,861.7" fill="#6a6a6a" />
<ellipse cx="1060.7" cy="845.9" rx="1.9" ry="1.2" transform="rotate(0 1060.7 845.9)" fill="#ccc"/>
<defs>
<linearGradient id="pmot" x1="0" x2="0" y1="0" y2="1">
<stop offset="0" stop-color="#3c8ad6"/><stop offset="0.5" stop-color="#2a70c0"/><stop offset="1" stop-color="#1c56a0"/>
</linearGradient>
<linearGradient id="pfan" x1="0" x2="1" y1="0" y2="0">
<stop offset="0" stop-color="#3a8ad8"/><stop offset="0.4" stop-color="#5aaaea"/><stop offset="1" stop-color="#3c90da"/>
</linearGradient>
<linearGradient id="pvol" x1="0" x2="1" y1="0" y2="0">
<stop offset="0" stop-color="#2c6cbc"/><stop offset="0.4" stop-color="#1f5aa8"/><stop offset="1" stop-color="#184c94"/>
</linearGradient>
<linearGradient id="pfl" x1="0" x2="1" y1="0" y2="0">
<stop offset="0" stop-color="#7a7e88"/><stop offset="0.6" stop-color="#a0a4ae"/><stop offset="1" stop-color="#e4e6ec"/>
</linearGradient>
<radialGradient id="pshd" cx="0.5" cy="0.5" r="0.5">
<stop offset="0" stop-color="#d8d0c8" stop-opacity="0.8"/><stop offset="1" stop-color="#fdf8f2" stop-opacity="0"/>
</radialGradient>
</defs>
<ellipse cx="1403.2" cy="979.2" rx="96.8" ry="13.3" transform="rotate(0 1403.2 979.2)" fill="url(#pshd)" />
<polygon points="1460.0,876.3 1478.2,872.4 1487.9,876.3 1493.9,890.8 1494.2,939.3 1487.9,948.9 1468.5,952.0 1460.7,946.5" fill="url(#pfan)" />
<polygon points="1378.9,907.8 1403.2,896.9 1451.6,878.7 1463.7,881.2 1469.7,894.5 1469.7,944.1 1451.6,952.0 1403.2,962.3 1385.0,961.1 1378.9,948.9" fill="url(#pmot)" />
<line x1="1386.2" y1="910.2" x2="1467.3" y2="895.7" stroke="#164a8e" stroke-width="0.9" opacity="0.7"/>
<line x1="1386.2" y1="914.2" x2="1467.3" y2="899.7" stroke="#164a8e" stroke-width="0.9" opacity="0.7"/>
<line x1="1386.2" y1="918.2" x2="1467.3" y2="903.7" stroke="#164a8e" stroke-width="0.9" opacity="0.7"/>
<line x1="1386.2" y1="922.2" x2="1467.3" y2="907.7" stroke="#164a8e" stroke-width="0.9" opacity="0.7"/>
<line x1="1386.2" y1="926.2" x2="1467.3" y2="911.7" stroke="#164a8e" stroke-width="0.9" opacity="0.7"/>
<line x1="1386.2" y1="930.2" x2="1467.3" y2="915.7" stroke="#164a8e" stroke-width="0.9" opacity="0.7"/>
<line x1="1386.2" y1="934.2" x2="1467.3" y2="919.7" stroke="#164a8e" stroke-width="0.9" opacity="0.7"/>
<line x1="1386.2" y1="938.2" x2="1467.3" y2="923.6" stroke="#164a8e" stroke-width="0.9" opacity="0.7"/>
<line x1="1386.2" y1="942.2" x2="1467.3" y2="927.6" stroke="#164a8e" stroke-width="0.9" opacity="0.7"/>
<line x1="1386.2" y1="946.2" x2="1467.3" y2="931.6" stroke="#164a8e" stroke-width="0.9" opacity="0.7"/>
<line x1="1386.2" y1="950.2" x2="1467.3" y2="935.6" stroke="#164a8e" stroke-width="0.9" opacity="0.7"/>
<line x1="1386.2" y1="954.2" x2="1467.3" y2="939.6" stroke="#164a8e" stroke-width="0.9" opacity="0.7"/>
<line x1="1386.2" y1="958.1" x2="1467.3" y2="943.6" stroke="#164a8e" stroke-width="0.9" opacity="0.7"/>
<line x1="1386.2" y1="962.1" x2="1467.3" y2="947.6" stroke="#164a8e" stroke-width="0.9" opacity="0.7"/>
<polygon points="1411.6,952.6 1451.6,946.5 1455.2,962.3 1414.1,969.5" fill="#2468b8" />
<polygon points="1398.3,976.2 1411.6,961.1 1451.6,953.8 1469.7,961.1 1469.7,970.7 1427.4,979.2 1399.5,985.9" fill="#3a92dc" />
<polygon points="1398.3,976.2 1427.4,970.7 1469.7,962.3 1469.7,970.7 1427.4,979.2 1399.5,985.9" fill="#2e7ccc" />
<polygon points="1354.7,876.3 1391.1,869.7 1421.3,870.9 1429.8,878.7 1429.8,900.5 1397.1,908.4 1362.0,903.6 1355.9,888.4" fill="#3288d6" />
<polygon points="1357.2,876.3 1391.1,870.3 1421.3,871.2 1427.4,877.5 1392.3,881.2 1359.6,886.0" fill="#4a9ee4" />
<ellipse cx="1394.7" cy="895.7" rx="4.8" ry="4.8" transform="rotate(0 1394.7 895.7)" fill="none" stroke="#1e5aa0" stroke-width="1.5"/>
<ellipse cx="1418.3" cy="893.3" rx="7.3" ry="6.3" transform="rotate(0 1418.3 893.3)" fill="#e8e8ea" />
<ellipse cx="1422.8" cy="893.9" rx="2.7" ry="2.7" transform="rotate(0 1422.8 893.9)" fill="#222" />
<polygon points="1342.6,879.9 1357.2,876.3 1363.2,907.8 1357.2,917.5 1347.5,902.9" fill="#1d58a4" />
<ellipse cx="1370.5" cy="932.0" rx="15.1" ry="35.1" transform="rotate(0 1370.5 932.0)" fill="#184886" />
<ellipse cx="1372.9" cy="932.0" rx="10.9" ry="27.8" transform="rotate(0 1372.9 932.0)" fill="#1e56a0" />
<polygon points="1314.8,879.9 1345.1,879.9 1348.7,900.5 1364.4,915.1 1366.8,948.9 1362.0,973.2 1348.7,985.9 1330.5,988.3 1320.8,983.4 1308.7,967.1 1306.3,942.9 1309.9,918.7 1320.8,907.8 1320.8,894.5" fill="url(#pvol)" />
<polygon points="1316.0,881.2 1325.7,881.2 1326.9,898.1 1335.4,907.8 1323.3,912.6 1320.8,894.5" fill="#3a7ccc" />
<ellipse cx="1332.9" cy="942.9" rx="18.2" ry="30.3" transform="rotate(0 1332.9 942.9)" fill="#1a4e96" />
<ellipse cx="1309.9" cy="940.5" rx="11.5" ry="26.0" transform="rotate(0 1309.9 940.5)" fill="#d8dae2" />
<ellipse cx="1297.2" cy="941.1" rx="18.2" ry="29.1" transform="rotate(0 1297.2 941.1)" fill="url(#pfl)" />
<ellipse cx="1296.0" cy="940.5" rx="10.3" ry="18.2" transform="rotate(0 1296.0 940.5)" fill="#e6eef4" />
<ellipse cx="1296.0" cy="940.5" rx="10.3" ry="18.2" transform="rotate(0 1296.0 940.5)" fill="none" stroke="#8a8e98" stroke-width="1"/>
<ellipse cx="1286.9" cy="917.5" rx="1.7" ry="1.7" transform="rotate(0 1286.9 917.5)" fill="#c4c8d0" />
<ellipse cx="1297.8" cy="923.5" rx="1.7" ry="1.7" transform="rotate(0 1297.8 923.5)" fill="#c4c8d0" />
<ellipse cx="1306.3" cy="940.5" rx="1.7" ry="1.7" transform="rotate(0 1306.3 940.5)" fill="#c4c8d0" />
<ellipse cx="1305.1" cy="959.8" rx="1.7" ry="1.7" transform="rotate(0 1305.1 959.8)" fill="#c4c8d0" />
<ellipse cx="1295.4" cy="968.3" rx="1.7" ry="1.7" transform="rotate(0 1295.4 968.3)" fill="#c4c8d0" />
<ellipse cx="1285.7" cy="961.1" rx="1.7" ry="1.7" transform="rotate(0 1285.7 961.1)" fill="#c4c8d0" />
<ellipse cx="1282.1" cy="940.5" rx="1.7" ry="1.7" transform="rotate(0 1282.1 940.5)" fill="#c4c8d0" />
<ellipse cx="1282.1" cy="924.7" rx="1.7" ry="1.7" transform="rotate(0 1282.1 924.7)" fill="#c4c8d0" />
<ellipse cx="1325.7" cy="875.1" rx="28.4" ry="6.7" transform="rotate(0 1325.7 875.1)" fill="#2460b0" />
<ellipse cx="1325.7" cy="868.4" rx="28.1" ry="8.5" transform="rotate(0 1325.7 868.4)" fill="#6a6e78" />
<ellipse cx="1325.7" cy="867.6" rx="28.1" ry="8.2" transform="rotate(0 1325.7 867.6)" fill="#b8bcc6" />
<ellipse cx="1325.7" cy="866.0" rx="27.8" ry="7.9" transform="rotate(0 1325.7 866.0)" fill="#e0e2ea" />
<ellipse cx="1325.7" cy="865.4" rx="15.7" ry="4.8" transform="rotate(0 1325.7 865.4)" fill="#f4f6fa" />
<ellipse cx="1325.7" cy="865.4" rx="15.7" ry="4.8" transform="rotate(0 1325.7 865.4)" fill="none" stroke="#9a9ea8" stroke-width="1"/>
<polygon points="1300.3,870.3 1351.1,870.3 1353.5,876.3 1297.8,876.3" fill="#20242c" opacity="0.35"/>
<ellipse cx="1301.5" cy="864.2" rx="1.9" ry="1.2" transform="rotate(0 1301.5 864.2)" fill="#aab0bc" />
<ellipse cx="1309.9" cy="858.2" rx="1.9" ry="1.2" transform="rotate(0 1309.9 858.2)" fill="#aab0bc" />
<ellipse cx="1323.3" cy="856.9" rx="1.9" ry="1.2" transform="rotate(0 1323.3 856.9)" fill="#aab0bc" />
<ellipse cx="1337.8" cy="858.2" rx="1.9" ry="1.2" transform="rotate(0 1337.8 858.2)" fill="#aab0bc" />
<ellipse cx="1348.7" cy="864.2" rx="1.9" ry="1.2" transform="rotate(0 1348.7 864.2)" fill="#aab0bc" />
<ellipse cx="1342.6" cy="871.5" rx="1.9" ry="1.2" transform="rotate(0 1342.6 871.5)" fill="#aab0bc" />
<ellipse cx="1308.7" cy="871.5" rx="1.9" ry="1.2" transform="rotate(0 1308.7 871.5)" fill="#aab0bc" />
<defs>
<linearGradient id="cwall" x1="0" x2="1" y1="0" y2="0">
<stop offset="0" stop-color="#b4b8c2"/><stop offset="0.45" stop-color="#e2e4ea"/><stop offset="1" stop-color="#a8acb6"/>
</linearGradient>
<linearGradient id="cbody" x1="0" x2="0" y1="0" y2="1">
<stop offset="0" stop-color="#d0d4dc"/><stop offset="0.5" stop-color="#b6bac4"/><stop offset="1" stop-color="#8e929e"/>
</linearGradient>
<linearGradient id="cshield" x1="0" x2="0" y1="0" y2="1">
<stop offset="0" stop-color="#c4c8d2"/><stop offset="1" stop-color="#9ea2ae"/>
</linearGradient>
<linearGradient id="carm" x1="0" x2="0" y1="0" y2="1">
<stop offset="0" stop-color="#b0b4be"/><stop offset="1" stop-color="#7e828e"/>
</linearGradient>
</defs>
<polygon points="1780.5,913.8 1785.5,910.9 1839.8,910.9 1843.6,914.5 1828.5,916.0" fill="#d4d6dc" />
<polygon points="1828.5,916.0 1843.6,914.5 1843.9,975.1 1828.5,976.6" fill="#8a8e98" />
<polygon points="1780.5,913.8 1828.5,916.0 1828.5,976.6 1783.0,970.3" fill="url(#cwall)" />
<polygon points="1795.6,932.2 1809.5,933.4 1810.8,953.6 1795.6,954.9" fill="#9a9eaa" />
<polygon points="1751.4,925.8 1764.0,923.3 1774.2,941.0 1796.9,935.9 1807.0,937.2 1808.3,953.6 1779.2,956.2 1766.6,958.7 1756.5,953.6 1751.4,941.0" fill="url(#carm)" />
<polygon points="1747.6,918.9 1771.0,911.3 1772.3,925.8 1759.0,933.4 1749.5,932.2" fill="#a4a8b2" />
<ellipse cx="1756.5" cy="935.9" rx="6.9" ry="13.9" transform="rotate(0 1756.5 935.9)" fill="#a8acb6" />
<ellipse cx="1759.0" cy="951.1" rx="5.1" ry="5.7" transform="rotate(0 1759.0 951.1)" fill="#c4c8d0" />
<polygon points="1657.9,905.6 1775.4,872.8 1794.4,866.5 1795.4,886.7 1776.7,901.2 1773.5,910.7 1714.8,928.6 1680.7,936.2 1673.1,939.5" fill="url(#cbody)" />
<polygon points="1716.0,893.0 1774.2,876.6 1774.8,901.8 1719.8,918.3" fill="#c2c6d0" />
<polygon points="1733.7,900.6 1748.9,896.8 1749.1,902.5 1734.4,906.3" fill="#3a3c44" />
<polygon points="1678.2,909.4 1713.5,900.6 1716.0,928.4 1680.7,935.9" fill="#a4a8b2" />
<polygon points="1685.7,915.7 1712.3,909.4 1713.5,927.1 1688.3,933.4" fill="#9498a4" />
<polygon points="1628.9,899.3 1785.5,860.8 1794.4,865.8 1793.1,872.5 1657.9,907.1 1635.2,910.9" fill="url(#cshield)" />
<polygon points="1628.9,899.3 1785.5,860.8 1794.4,865.8 1658.6,903.1" fill="#cdd1da" />
<polygon points="1628.9,899.3 1658.6,903.1 1657.9,907.1 1635.2,910.9" fill="#8c909c" />
<ellipse cx="1669.3" cy="923.3" rx="12.9" ry="17.4" transform="rotate(5 1669.3 923.3)" fill="#e6e8ee" />
<ellipse cx="1670.3" cy="922.7" rx="9.9" ry="14.1" transform="rotate(5 1670.3 922.7)" fill="#383a46" />
<ellipse cx="1671.2" cy="922.3" rx="6.9" ry="10.1" transform="rotate(5 1671.2 922.3)" fill="#4a4a5a" />
<ellipse cx="1674.1" cy="923.6" rx="2.0" ry="2.8" transform="rotate(0 1674.1 923.6)" fill="#8a7aa0" />
<polygon points="938.1,1171.1 1013.1,1159.2 1033.5,1168.5 1116.1,1154.2 1117.1,1164.1 1033.5,1175.5 1011.9,1177.4 938.1,1176.8" fill="#3c3c3e" />
<polygon points="910.8,1183.1 925.4,1179.3 952.1,1186.9 938.1,1183.1" fill="#3c3c3e" />
<polygon points="1033.5,1175.5 1116.1,1163.8 1116.7,1195.8 1103.4,1198.4 1103.4,1218.7 1033.5,1232.7" fill="#4c4c4e" />
<polygon points="1020.8,1221.3 1033.5,1208.6 1103.4,1198.4 1103.4,1218.7 1033.5,1232.7 1020.8,1234.0" fill="#6a6a6c" />
<line x1="1034.7" y1="1204.7" x2="1102.1" y2="1195.8" stroke="#a8a8aa" stroke-width="1.0"/>
<line x1="1034.7" y1="1208.3" x2="1102.1" y2="1199.4" stroke="#a8a8aa" stroke-width="1.0"/>
<line x1="1034.7" y1="1211.9" x2="1102.1" y2="1203.0" stroke="#a8a8aa" stroke-width="1.0"/>
<line x1="1034.7" y1="1215.4" x2="1102.1" y2="1206.5" stroke="#a8a8aa" stroke-width="1.0"/>
<line x1="1034.7" y1="1219.0" x2="1102.1" y2="1210.1" stroke="#a8a8aa" stroke-width="1.0"/>
<line x1="1034.7" y1="1222.5" x2="1102.1" y2="1213.6" stroke="#a8a8aa" stroke-width="1.0"/>
<line x1="1034.7" y1="1226.1" x2="1102.1" y2="1217.2" stroke="#a8a8aa" stroke-width="1.0"/>
<line x1="1034.7" y1="1229.7" x2="1102.1" y2="1220.8" stroke="#a8a8aa" stroke-width="1.0"/>
<line x1="1036.0" y1="1202.0" x2="1036.0" y2="1231.2" stroke="#3a3a3c" stroke-width="0.8"/>
<line x1="1039.3" y1="1201.6" x2="1039.3" y2="1230.5" stroke="#3a3a3c" stroke-width="0.8"/>
<line x1="1042.6" y1="1201.2" x2="1042.6" y2="1229.9" stroke="#3a3a3c" stroke-width="0.8"/>
<line x1="1045.9" y1="1200.7" x2="1045.9" y2="1229.2" stroke="#3a3a3c" stroke-width="0.8"/>
<line x1="1049.2" y1="1200.3" x2="1049.2" y2="1228.5" stroke="#3a3a3c" stroke-width="0.8"/>
<line x1="1052.5" y1="1199.9" x2="1052.5" y2="1227.9" stroke="#3a3a3c" stroke-width="0.8"/>
<line x1="1055.8" y1="1199.5" x2="1055.8" y2="1227.2" stroke="#3a3a3c" stroke-width="0.8"/>
<line x1="1059.1" y1="1199.0" x2="1059.1" y2="1226.6" stroke="#3a3a3c" stroke-width="0.8"/>
<line x1="1062.5" y1="1198.6" x2="1062.5" y2="1225.9" stroke="#3a3a3c" stroke-width="0.8"/>
<line x1="1065.8" y1="1198.2" x2="1065.8" y2="1225.2" stroke="#3a3a3c" stroke-width="0.8"/>
<line x1="1069.1" y1="1197.7" x2="1069.1" y2="1224.6" stroke="#3a3a3c" stroke-width="0.8"/>
<line x1="1072.4" y1="1197.3" x2="1072.4" y2="1223.9" stroke="#3a3a3c" stroke-width="0.8"/>
<line x1="1075.7" y1="1196.9" x2="1075.7" y2="1223.3" stroke="#3a3a3c" stroke-width="0.8"/>
<line x1="1079.0" y1="1196.5" x2="1079.0" y2="1222.6" stroke="#3a3a3c" stroke-width="0.8"/>
<line x1="1082.3" y1="1196.0" x2="1082.3" y2="1221.9" stroke="#3a3a3c" stroke-width="0.8"/>
<line x1="1085.6" y1="1195.6" x2="1085.6" y2="1221.3" stroke="#3a3a3c" stroke-width="0.8"/>
<line x1="1088.9" y1="1195.2" x2="1088.9" y2="1220.6" stroke="#3a3a3c" stroke-width="0.8"/>
<line x1="1092.2" y1="1194.7" x2="1092.2" y2="1219.9" stroke="#3a3a3c" stroke-width="0.8"/>
<line x1="1095.5" y1="1194.3" x2="1095.5" y2="1219.3" stroke="#3a3a3c" stroke-width="0.8"/>
<line x1="1098.8" y1="1193.9" x2="1098.8" y2="1218.6" stroke="#3a3a3c" stroke-width="0.8"/>
<line x1="1102.1" y1="1193.4" x2="1102.1" y2="1218.0" stroke="#3a3a3c" stroke-width="0.8"/>
<line x1="1036.6" y1="1178.2" x2="1036.6" y2="1200.5" stroke="#8c8c8e" stroke-width="1.2" stroke-dasharray="1.5 0.8"/>
<line x1="1039.4" y1="1177.8" x2="1039.4" y2="1200.1" stroke="#8c8c8e" stroke-width="1.2" stroke-dasharray="1.5 0.8"/>
<line x1="1042.2" y1="1177.5" x2="1042.2" y2="1199.7" stroke="#8c8c8e" stroke-width="1.2" stroke-dasharray="1.5 0.8"/>
<line x1="1045.0" y1="1177.1" x2="1045.0" y2="1199.3" stroke="#8c8c8e" stroke-width="1.2" stroke-dasharray="1.5 0.8"/>
<line x1="1047.8" y1="1176.7" x2="1047.8" y2="1198.9" stroke="#8c8c8e" stroke-width="1.2" stroke-dasharray="1.5 0.8"/>
<line x1="1050.6" y1="1176.3" x2="1050.6" y2="1198.5" stroke="#8c8c8e" stroke-width="1.2" stroke-dasharray="1.5 0.8"/>
<line x1="1053.4" y1="1175.9" x2="1053.4" y2="1198.1" stroke="#8c8c8e" stroke-width="1.2" stroke-dasharray="1.5 0.8"/>
<line x1="1056.2" y1="1175.5" x2="1056.2" y2="1197.7" stroke="#8c8c8e" stroke-width="1.2" stroke-dasharray="1.5 0.8"/>
<line x1="1059.0" y1="1175.1" x2="1059.0" y2="1197.4" stroke="#8c8c8e" stroke-width="1.2" stroke-dasharray="1.5 0.8"/>
<line x1="1061.8" y1="1174.7" x2="1061.8" y2="1197.0" stroke="#8c8c8e" stroke-width="1.2" stroke-dasharray="1.5 0.8"/>
<line x1="1064.6" y1="1174.3" x2="1064.6" y2="1196.6" stroke="#8c8c8e" stroke-width="1.2" stroke-dasharray="1.5 0.8"/>
<line x1="1067.4" y1="1173.9" x2="1067.4" y2="1196.2" stroke="#8c8c8e" stroke-width="1.2" stroke-dasharray="1.5 0.8"/>
<line x1="1070.2" y1="1173.5" x2="1070.2" y2="1195.8" stroke="#8c8c8e" stroke-width="1.2" stroke-dasharray="1.5 0.8"/>
<line x1="1073.0" y1="1173.2" x2="1073.0" y2="1195.4" stroke="#8c8c8e" stroke-width="1.2" stroke-dasharray="1.5 0.8"/>
<line x1="1075.8" y1="1172.8" x2="1075.8" y2="1195.0" stroke="#8c8c8e" stroke-width="1.2" stroke-dasharray="1.5 0.8"/>
<line x1="1078.6" y1="1172.4" x2="1078.6" y2="1194.6" stroke="#8c8c8e" stroke-width="1.2" stroke-dasharray="1.5 0.8"/>
<line x1="1081.4" y1="1172.0" x2="1081.4" y2="1194.2" stroke="#8c8c8e" stroke-width="1.2" stroke-dasharray="1.5 0.8"/>
<line x1="1084.2" y1="1171.6" x2="1084.2" y2="1193.8" stroke="#8c8c8e" stroke-width="1.2" stroke-dasharray="1.5 0.8"/>
<line x1="1087.0" y1="1171.2" x2="1087.0" y2="1193.4" stroke="#8c8c8e" stroke-width="1.2" stroke-dasharray="1.5 0.8"/>
<line x1="1089.8" y1="1170.8" x2="1089.8" y2="1193.0" stroke="#8c8c8e" stroke-width="1.2" stroke-dasharray="1.5 0.8"/>
<line x1="1092.6" y1="1170.4" x2="1092.6" y2="1192.7" stroke="#8c8c8e" stroke-width="1.2" stroke-dasharray="1.5 0.8"/>
<line x1="1095.4" y1="1170.0" x2="1095.4" y2="1192.3" stroke="#8c8c8e" stroke-width="1.2" stroke-dasharray="1.5 0.8"/>
<line x1="1098.2" y1="1169.6" x2="1098.2" y2="1191.9" stroke="#8c8c8e" stroke-width="1.2" stroke-dasharray="1.5 0.8"/>
<line x1="1101.0" y1="1169.2" x2="1101.0" y2="1191.5" stroke="#8c8c8e" stroke-width="1.2" stroke-dasharray="1.5 0.8"/>
<line x1="1103.8" y1="1168.8" x2="1103.8" y2="1191.1" stroke="#8c8c8e" stroke-width="1.2" stroke-dasharray="1.5 0.8"/>
<line x1="1106.6" y1="1168.5" x2="1106.6" y2="1190.7" stroke="#8c8c8e" stroke-width="1.2" stroke-dasharray="1.5 0.8"/>
<line x1="1109.4" y1="1168.1" x2="1109.4" y2="1190.3" stroke="#8c8c8e" stroke-width="1.2" stroke-dasharray="1.5 0.8"/>
<line x1="1112.2" y1="1167.7" x2="1112.2" y2="1189.9" stroke="#8c8c8e" stroke-width="1.2" stroke-dasharray="1.5 0.8"/>
<line x1="1114.9" y1="1167.3" x2="1114.9" y2="1189.5" stroke="#8c8c8e" stroke-width="1.2" stroke-dasharray="1.5 0.8"/>
<polygon points="938.1,1176.8 1011.9,1173.0 1033.5,1170.4 1033.5,1232.7 1011.9,1234.0 944.5,1246.7 938.1,1245.4" fill="#4a4a4c" />
<polygon points="983.9,1178.0 1011.9,1174.0 1011.9,1234.0 983.9,1236.5" fill="#555557" />
<polygon points="952.1,1181.9 971.2,1179.6 971.2,1245.4 952.1,1246.7" fill="#464648" />
<polygon points="910.8,1183.1 938.1,1180.6 938.1,1216.2 944.5,1251.8 911.4,1252.4" fill="#444446" />
<polygon points="938.1,1186.9 952.1,1188.9 952.1,1245.4 944.5,1246.7 938.1,1245.4" fill="#484849" />
<polygon points="910.8,1223.8 944.5,1222.5 944.5,1251.8 911.4,1252.4" fill="#3a3a3c" />
<polygon points="944.5,1231.4 1020.8,1227.6 1020.8,1234.0 944.5,1246.7" fill="#303032" />
<line x1="925.4" y1="1193.0" x2="938.1" y2="1191.5" stroke="#d02a2a" stroke-width="2.2"/>
<line x1="938.8" y1="1190.1" x2="952.1" y2="1188.9" stroke="#d02a2a" stroke-width="2.2"/>
<line x1="955.9" y1="1182.1" x2="971.2" y2="1180.2" stroke="#d02a2a" stroke-width="2.2"/>
<line x1="971.8" y1="1179.6" x2="983.9" y2="1178.3" stroke="#d02a2a" stroke-width="2.2"/>
<line x1="984.1" y1="1178.3" x2="1011.9" y2="1174.5" stroke="#d02a2a" stroke-width="2.2"/>
<line x1="1012.5" y1="1174.5" x2="1033.5" y2="1171.1" stroke="#d02a2a" stroke-width="2.2"/>
<line x1="1034.7" y1="1176.1" x2="1062.7" y2="1172.5" stroke="#d02a2a" stroke-width="2.2"/>
<line x1="1063.3" y1="1171.9" x2="1090.7" y2="1168.1" stroke="#d02a2a" stroke-width="2.2"/>
<line x1="1091.3" y1="1167.6" x2="1116.1" y2="1164.3" stroke="#d02a2a" stroke-width="2.2"/>
<rect x="960.4" y="1195.8" width="7.0" height="8.9" fill="#b8b8ba" />
<rect x="961.6" y="1197.4" width="4.4" height="6.1" fill="#1a1a1a" />
<rect x="960.4" y="1206.0" width="7.0" height="7.0" fill="#b8b8ba" />
<rect x="961.6" y="1207.5" width="4.4" height="4.2" fill="#1a1a1a" />
<rect x="960.4" y="1214.9" width="7.0" height="7.6" fill="#b8b8ba" />
<rect x="961.6" y="1216.4" width="4.4" height="4.8" fill="#1a1a1a" />
<rect x="960.4" y="1223.8" width="7.0" height="6.4" fill="#b8b8ba" />
<rect x="961.6" y="1225.3" width="4.4" height="3.6" fill="#1a1a1a" />
<rect x="933.0" y="1227.6" width="6.4" height="7.6" fill="#b8b8ba" />
<rect x="934.3" y="1229.1" width="3.8" height="4.8" fill="#1a1a1a" />
<rect x="933.0" y="1235.9" width="6.4" height="7.0" fill="#b8b8ba" />
<rect x="934.3" y="1237.4" width="3.8" height="4.2" fill="#1a1a1a" />
<rect x="952.8" y="1236.5" width="7.0" height="6.4" fill="#b8b8ba" />
<rect x="954.0" y="1238.0" width="4.4" height="3.6" fill="#1a1a1a" />
<rect x="919.7" y="1230.2" width="6.4" height="15.3" fill="#b8b8ba" />
<rect x="921.0" y="1231.7" width="3.8" height="12.5" fill="#1a1a1a" />
<rect x="928.6" y="1223.8" width="9.5" height="2.5" fill="#b0b0b0" />
<rect x="941.3" y="1221.3" width="9.5" height="2.5" fill="#b0b0b0" />
<rect x="1025.2" y="1217.5" width="7.6" height="3.8" fill="#c8c8c8" />
<rect x="1062.7" y="1202.2" width="8.3" height="2.5" fill="#c8c8c8" />
<rect x="1034.7" y="1207.3" width="7.0" height="1.9" fill="#c8c8c8" />
<polygon points="1080.6,1235.3 1100.7,1232.5 1121.9,1242.2 1100.7,1245.0" fill="#3a3a3e" />
<polygon points="1080.6,1235.3 1100.7,1245.0 1103.1,1308.8 1081.8,1295.0" fill="#2a2a2e" />
<polygon points="1100.7,1245.0 1121.9,1242.2 1122.4,1302.9 1103.1,1308.8" fill="#1f3d7c" />
<polygon points="1103.1,1302.9 1122.4,1294.0 1122.4,1302.9 1103.1,1308.8" fill="#e8782c" />
<rect x="1111.0" y="1286.1" width="5.7" height="15.3" fill="#c0c0c4" />
<rect x="1112.0" y="1287.4" width="3.7" height="5.7" fill="#1a1a1a" />
<rect x="1112.0" y="1295.0" width="3.7" height="5.3" fill="#1a1a1a" />
<polygon points="1047.8,1237.4 1068.6,1234.7 1090.7,1245.7 1071.0,1247.7" fill="#3a3a3e" />
<polygon points="1047.8,1237.4 1071.0,1247.7 1071.7,1314.7 1049.6,1296.0" fill="#2c2c30" />
<clipPath id="d1clip"><polygon points="1047.8,1237.4 1071.0,1247.7 1071.7,1314.7 1049.6,1296.0"/></clipPath><g clip-path="url(#d1clip)">
<line x1="1047.5" y1="1241.6" x2="1071.6" y2="1250.5" stroke="#3e3e42" stroke-width="1.0"/>
<line x1="1047.5" y1="1244.7" x2="1071.6" y2="1253.6" stroke="#3e3e42" stroke-width="1.0"/>
<line x1="1047.5" y1="1247.7" x2="1071.6" y2="1256.6" stroke="#3e3e42" stroke-width="1.0"/>
<line x1="1047.5" y1="1250.8" x2="1071.6" y2="1259.7" stroke="#3e3e42" stroke-width="1.0"/>
<line x1="1047.5" y1="1253.8" x2="1071.6" y2="1262.7" stroke="#3e3e42" stroke-width="1.0"/>
<line x1="1047.5" y1="1256.9" x2="1071.6" y2="1265.8" stroke="#3e3e42" stroke-width="1.0"/>
<line x1="1047.5" y1="1259.9" x2="1071.6" y2="1268.8" stroke="#3e3e42" stroke-width="1.0"/>
<line x1="1047.5" y1="1263.0" x2="1071.6" y2="1271.9" stroke="#3e3e42" stroke-width="1.0"/>
<line x1="1047.5" y1="1266.0" x2="1071.6" y2="1274.9" stroke="#3e3e42" stroke-width="1.0"/>
<line x1="1047.5" y1="1269.1" x2="1071.6" y2="1278.0" stroke="#3e3e42" stroke-width="1.0"/>
<line x1="1047.5" y1="1272.1" x2="1071.6" y2="1281.0" stroke="#3e3e42" stroke-width="1.0"/>
<line x1="1047.5" y1="1275.2" x2="1071.6" y2="1284.1" stroke="#3e3e42" stroke-width="1.0"/>
<line x1="1047.5" y1="1278.2" x2="1071.6" y2="1287.1" stroke="#3e3e42" stroke-width="1.0"/>
<line x1="1047.5" y1="1281.3" x2="1071.6" y2="1290.2" stroke="#3e3e42" stroke-width="1.0"/>
<line x1="1047.5" y1="1284.3" x2="1071.6" y2="1293.2" stroke="#3e3e42" stroke-width="1.0"/>
<line x1="1047.5" y1="1287.4" x2="1071.6" y2="1296.3" stroke="#3e3e42" stroke-width="1.0"/>
<line x1="1047.5" y1="1290.4" x2="1071.6" y2="1299.3" stroke="#3e3e42" stroke-width="1.0"/>
<line x1="1047.5" y1="1293.5" x2="1071.6" y2="1302.4" stroke="#3e3e42" stroke-width="1.0"/>
<line x1="1047.5" y1="1296.5" x2="1071.6" y2="1305.4" stroke="#3e3e42" stroke-width="1.0"/>
<line x1="1047.5" y1="1299.6" x2="1071.6" y2="1308.5" stroke="#3e3e42" stroke-width="1.0"/>
</g>
<polygon points="1071.0,1247.7 1090.7,1245.7 1091.1,1309.9 1071.7,1314.7" fill="#1f3d7c" />
<polygon points="1071.7,1308.3 1091.1,1299.4 1091.1,1309.9 1071.7,1314.7" fill="#e8782c" />
<rect x="1081.1" y="1291.8" width="6.4" height="14.0" fill="#c0c0c4" />
<rect x="1082.2" y="1293.1" width="4.3" height="5.1" fill="#1a1a1a" />
<rect x="1082.2" y="1300.1" width="4.3" height="5.1" fill="#1a1a1a" />
<rect x="1073.5" y="1251.8" width="7.6" height="1.9" fill="#9ab0d8" />
<rect x="1104.7" y="1248.6" width="7.6" height="1.9" fill="#9ab0d8" />
<line x1="1094.7" y1="1195.8" x2="1091.3" y2="1258.1" stroke="#111" stroke-width="3"/>
<line x1="1125.6" y1="1194.8" x2="1122.2" y2="1255.6" stroke="#111" stroke-width="3"/>
<line x1="1086.9" y1="1251.8" x2="1091.3" y2="1258.1" stroke="#222" stroke-width="3"/>
<line x1="1117.4" y1="1249.2" x2="1122.2" y2="1255.6" stroke="#222" stroke-width="3"/>
<g class="t"><text x="104" y="51.7" textLength="134.8" lengthAdjust="spacingAndGlyphs">Sensors</text><text x="389" y="143.7" textLength="68.9" lengthAdjust="spacingAndGlyphs">UST</text><text x="356" y="510.8" textLength="63.0" lengthAdjust="spacingAndGlyphs">ERT</text><text x="355" y="818" textLength="65.0" lengthAdjust="spacingAndGlyphs">ECT</text><text x="623.6" y="28.4" textLength="76.6" lengthAdjust="spacingAndGlyphs">Data</text><text x="574.0" y="76.8" textLength="178.0" lengthAdjust="spacingAndGlyphs">acquisition</text><text x="985.4" y="28.4" textLength="75.2" lengthAdjust="spacingAndGlyphs">Data</text><text x="962.3" y="77" textLength="121.9" lengthAdjust="spacingAndGlyphs">storage</text><text x="975" y="393.1" textLength="97.6" lengthAdjust="spacingAndGlyphs">Cloud</text><text x="935.1" y="441.7" textLength="181.3" lengthAdjust="spacingAndGlyphs">computing</text><text x="1333.5" y="392.3" textLength="101.6" lengthAdjust="spacingAndGlyphs">Image</text><text x="1261.8" y="440.7" textLength="245.2" lengthAdjust="spacingAndGlyphs">reconstruction</text><text x="887.3" y="760" textLength="609.2" lengthAdjust="spacingAndGlyphs">Industrial automatic control systems</text></g>
</svg>
</body></html>
